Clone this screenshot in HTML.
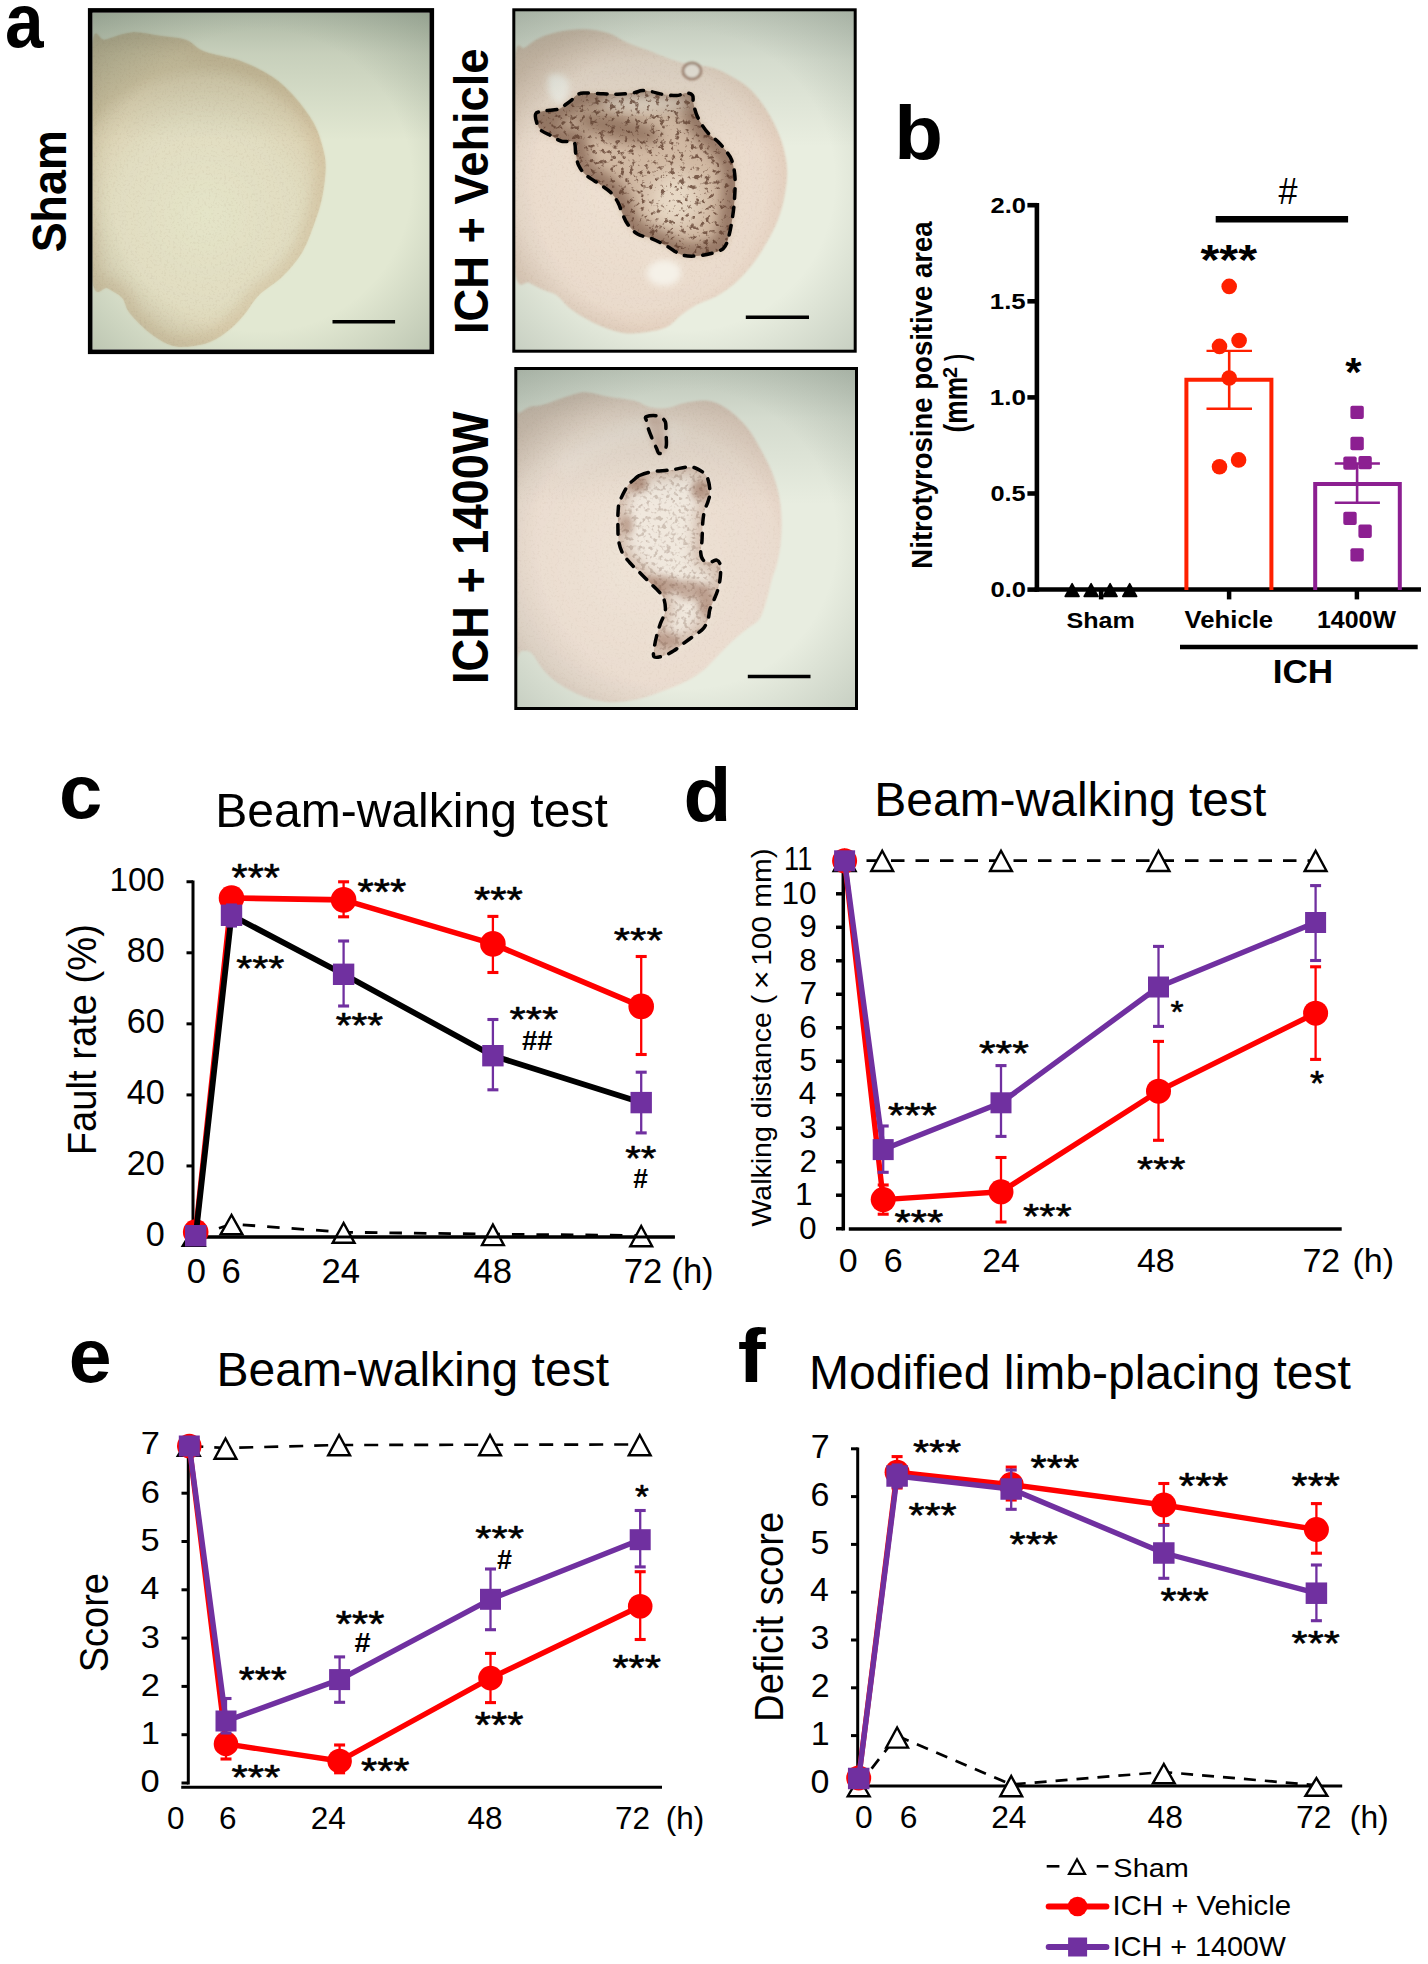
<!DOCTYPE html>
<html><head><meta charset="utf-8"><style>
html,body{margin:0;padding:0;background:#fff;}
svg{display:block;}
text{font-family:"Liberation Sans",sans-serif;}
</style></head><body>
<svg width="1428" height="1964" viewBox="0 0 1428 1964">
<rect width="1428" height="1964" fill="#fff"/>
<defs>
<clipPath id="cb1"><rect x="92.5" y="12.8" width="337.2" height="336.6"/></clipPath>
<clipPath id="cb2"><rect x="515" y="11" width="339" height="339"/></clipPath>
<clipPath id="cb3"><rect x="517" y="369.5" width="339" height="338"/></clipPath>
<linearGradient id="tv" x1="0" y1="0" x2="0" y2="1">
 <stop offset="0" stop-color="#43574a" stop-opacity="0.33"/><stop offset="0.12" stop-color="#43574a" stop-opacity="0.17"/><stop offset="0.38" stop-color="#43574a" stop-opacity="0"/></linearGradient>
<linearGradient id="tv2" x1="0" y1="0" x2="0" y2="1">
 <stop offset="0" stop-color="#43574a" stop-opacity="0.26"/><stop offset="0.15" stop-color="#43574a" stop-opacity="0.12"/><stop offset="0.4" stop-color="#43574a" stop-opacity="0"/></linearGradient>
<radialGradient id="cv" cx="0.5" cy="0.5" r="0.72">
 <stop offset="0.62" stop-color="#43574a" stop-opacity="0"/><stop offset="1" stop-color="#43574a" stop-opacity="0.24"/></radialGradient>
<radialGradient id="cv2" cx="0.5" cy="0.5" r="0.72">
 <stop offset="0.6" stop-color="#43574a" stop-opacity="0"/><stop offset="1" stop-color="#43574a" stop-opacity="0.22"/></radialGradient>
<radialGradient id="br1" gradientUnits="userSpaceOnUse" cx="205" cy="215" r="150">
 <stop offset="0" stop-color="#e4e4c8"/><stop offset="0.6" stop-color="#e1ddc1"/><stop offset="0.9" stop-color="#dbd0b0"/><stop offset="1" stop-color="#d2c5a2"/></radialGradient>
<radialGradient id="br2" gradientUnits="userSpaceOnUse" cx="640" cy="185" r="165">
 <stop offset="0" stop-color="#eee2d3"/><stop offset="0.75" stop-color="#eadbcc"/><stop offset="1" stop-color="#dec7b4"/></radialGradient>
<radialGradient id="br3" gradientUnits="userSpaceOnUse" cx="640" cy="560" r="175">
 <stop offset="0" stop-color="#eee3d6"/><stop offset="0.78" stop-color="#eadccf"/><stop offset="1" stop-color="#dfcabb"/></radialGradient>
<filter id="speck" color-interpolation-filters="sRGB" x="0" y="0" width="100%" height="100%"><feTurbulence type="fractalNoise" baseFrequency="0.24" numOctaves="2" seed="7" result="n"/>
<feColorMatrix in="n" type="matrix" values="0 0 0 0 0.36  0 0 0 0 0.23  0 0 0 0 0.17  5.5 0 0 0 -2.85" result="c"/><feComposite in="c" in2="SourceAlpha" operator="in" result="d"/><feGaussianBlur in="d" stdDeviation="0.6"/></filter>
<filter id="tex" color-interpolation-filters="sRGB" x="0" y="0" width="100%" height="100%"><feTurbulence type="fractalNoise" baseFrequency="0.45" numOctaves="2" seed="3" result="n"/>
<feColorMatrix in="n" type="matrix" values="0 0 0 0 0.55  0 0 0 0 0.45  0 0 0 0 0.35  4 0 0 0 -2.1" result="c"/><feComposite in="c" in2="SourceAlpha" operator="in"/></filter>
<filter id="speck2" color-interpolation-filters="sRGB" x="0" y="0" width="100%" height="100%"><feTurbulence type="fractalNoise" baseFrequency="0.2" numOctaves="3" seed="11" result="n"/>
<feColorMatrix in="n" type="matrix" values="0 0 0 0 0.36  0 0 0 0 0.23  0 0 0 0 0.17  6 0 0 0 -3.35" result="c"/><feComposite in="c" in2="SourceAlpha" operator="in" result="d"/><feGaussianBlur in="d" stdDeviation="0.5"/></filter>
<filter id="blur1" x="-20%" y="-20%" width="140%" height="140%"><feGaussianBlur stdDeviation="0.8"/></filter>
<filter id="blur3" x="-30%" y="-30%" width="160%" height="160%"><feGaussianBlur stdDeviation="3"/></filter>
<filter id="blur6" x="-30%" y="-30%" width="160%" height="160%"><feGaussianBlur stdDeviation="6"/></filter>
<filter id="blur10" x="-40%" y="-40%" width="180%" height="180%"><feGaussianBlur stdDeviation="10"/></filter>
</defs>
<text x="4.97" y="46.86" font-size="76.12" font-weight="bold" textLength="38.59" lengthAdjust="spacingAndGlyphs" fill="#000">a</text>
<text transform="translate(65.8,251) rotate(-90)" x="-1.29" y="0" font-size="47.34" font-weight="bold" textLength="122.07" lengthAdjust="spacingAndGlyphs" fill="#000">Sham</text>
<text transform="translate(488,331) rotate(-90)" x="-3" y="0" font-size="48.3" font-weight="bold" textLength="285.54" lengthAdjust="spacingAndGlyphs" fill="#000">ICH + Vehicle</text>
<text transform="translate(488,681) rotate(-90)" x="-3.02" y="0" font-size="50.13" font-weight="bold" textLength="272.57" lengthAdjust="spacingAndGlyphs" fill="#000">ICH + 1400W</text>
<g clip-path="url(#cb1)">
<rect x="88" y="8" width="346" height="346" fill="#e2e8d2"/>
<path d="M92 43 C96.17 22.95 98.35 41.47 105 39.7 C111.65 37.93 122.57 33.02 131.9 32.4 C141.23 31.78 152.07 34.78 161 36 C169.93 37.22 178.58 37.25 185.5 39.7 C192.42 42.15 196 47.87 202.5 50.7 C209 53.53 218.4 55.08 224.5 56.7 C230.6 58.32 233.42 58.37 239.1 60.4 C244.78 62.43 252.1 65.45 258.6 68.9 C265.1 72.35 271.6 75.82 278.1 81.1 C284.6 86.38 291.5 93.28 297.6 100.6 C303.7 107.92 310.43 116.87 314.7 125 C318.97 133.13 321.38 142.08 323.2 149.4 C325.02 156.72 325.8 160.78 325.6 168.9 C325.4 177.02 323.82 189.17 322 198.1 C320.18 207.03 317.95 213.57 314.7 222.5 C311.45 231.43 307.78 242.77 302.5 251.7 C297.22 260.63 290.32 268.78 283 276.1 C275.68 283.42 265.1 289.1 258.6 295.6 C252.1 302.1 248.87 309.42 244 315.1 C239.13 320.78 235.08 325.23 229.4 329.7 C223.72 334.17 217.22 339.05 209.9 341.9 C202.58 344.75 192.42 346.4 185.5 346.8 C178.58 347.2 174.5 346.73 168.4 344.3 C162.3 341.87 155.4 337.47 148.9 332.2 C142.4 326.93 133.87 318.4 129.4 312.7 C124.93 307 125.75 302.07 122.1 298 C118.45 293.93 112.52 291.13 107.5 288.3 C102.48 285.47 96.58 302.38 92 281 C87.42 259.62 80 199.67 80 160 C80 120.33 87.83 63.05 92 43Z" fill="url(#br1)" filter="url(#blur1)"/>
<clipPath id="clb1"><path d="M92 43 C96.17 22.95 98.35 41.47 105 39.7 C111.65 37.93 122.57 33.02 131.9 32.4 C141.23 31.78 152.07 34.78 161 36 C169.93 37.22 178.58 37.25 185.5 39.7 C192.42 42.15 196 47.87 202.5 50.7 C209 53.53 218.4 55.08 224.5 56.7 C230.6 58.32 233.42 58.37 239.1 60.4 C244.78 62.43 252.1 65.45 258.6 68.9 C265.1 72.35 271.6 75.82 278.1 81.1 C284.6 86.38 291.5 93.28 297.6 100.6 C303.7 107.92 310.43 116.87 314.7 125 C318.97 133.13 321.38 142.08 323.2 149.4 C325.02 156.72 325.8 160.78 325.6 168.9 C325.4 177.02 323.82 189.17 322 198.1 C320.18 207.03 317.95 213.57 314.7 222.5 C311.45 231.43 307.78 242.77 302.5 251.7 C297.22 260.63 290.32 268.78 283 276.1 C275.68 283.42 265.1 289.1 258.6 295.6 C252.1 302.1 248.87 309.42 244 315.1 C239.13 320.78 235.08 325.23 229.4 329.7 C223.72 334.17 217.22 339.05 209.9 341.9 C202.58 344.75 192.42 346.4 185.5 346.8 C178.58 347.2 174.5 346.73 168.4 344.3 C162.3 341.87 155.4 337.47 148.9 332.2 C142.4 326.93 133.87 318.4 129.4 312.7 C124.93 307 125.75 302.07 122.1 298 C118.45 293.93 112.52 291.13 107.5 288.3 C102.48 285.47 96.58 302.38 92 281 C87.42 259.62 80 199.67 80 160 C80 120.33 87.83 63.05 92 43Z"/></clipPath>
<g clip-path="url(#clb1)"><path d="M92 43 C96.17 22.95 98.35 41.47 105 39.7 C111.65 37.93 122.57 33.02 131.9 32.4 C141.23 31.78 152.07 34.78 161 36 C169.93 37.22 178.58 37.25 185.5 39.7 C192.42 42.15 196 47.87 202.5 50.7 C209 53.53 218.4 55.08 224.5 56.7 C230.6 58.32 233.42 58.37 239.1 60.4 C244.78 62.43 252.1 65.45 258.6 68.9 C265.1 72.35 271.6 75.82 278.1 81.1 C284.6 86.38 291.5 93.28 297.6 100.6 C303.7 107.92 310.43 116.87 314.7 125 C318.97 133.13 321.38 142.08 323.2 149.4 C325.02 156.72 325.8 160.78 325.6 168.9 C325.4 177.02 323.82 189.17 322 198.1 C320.18 207.03 317.95 213.57 314.7 222.5 C311.45 231.43 307.78 242.77 302.5 251.7 C297.22 260.63 290.32 268.78 283 276.1 C275.68 283.42 265.1 289.1 258.6 295.6 C252.1 302.1 248.87 309.42 244 315.1 C239.13 320.78 235.08 325.23 229.4 329.7 C223.72 334.17 217.22 339.05 209.9 341.9 C202.58 344.75 192.42 346.4 185.5 346.8 C178.58 347.2 174.5 346.73 168.4 344.3 C162.3 341.87 155.4 337.47 148.9 332.2 C142.4 326.93 133.87 318.4 129.4 312.7 C124.93 307 125.75 302.07 122.1 298 C118.45 293.93 112.52 291.13 107.5 288.3 C102.48 285.47 96.58 302.38 92 281 C87.42 259.62 80 199.67 80 160 C80 120.33 87.83 63.05 92 43Z" fill="none" stroke="#cdb996" stroke-width="22" opacity="0.45" filter="url(#blur6)"/></g>
<path d="M92 43 C96.17 22.95 98.35 41.47 105 39.7 C111.65 37.93 122.57 33.02 131.9 32.4 C141.23 31.78 152.07 34.78 161 36 C169.93 37.22 178.58 37.25 185.5 39.7 C192.42 42.15 196 47.87 202.5 50.7 C209 53.53 218.4 55.08 224.5 56.7 C230.6 58.32 233.42 58.37 239.1 60.4 C244.78 62.43 252.1 65.45 258.6 68.9 C265.1 72.35 271.6 75.82 278.1 81.1 C284.6 86.38 291.5 93.28 297.6 100.6 C303.7 107.92 310.43 116.87 314.7 125 C318.97 133.13 321.38 142.08 323.2 149.4 C325.02 156.72 325.8 160.78 325.6 168.9 C325.4 177.02 323.82 189.17 322 198.1 C320.18 207.03 317.95 213.57 314.7 222.5 C311.45 231.43 307.78 242.77 302.5 251.7 C297.22 260.63 290.32 268.78 283 276.1 C275.68 283.42 265.1 289.1 258.6 295.6 C252.1 302.1 248.87 309.42 244 315.1 C239.13 320.78 235.08 325.23 229.4 329.7 C223.72 334.17 217.22 339.05 209.9 341.9 C202.58 344.75 192.42 346.4 185.5 346.8 C178.58 347.2 174.5 346.73 168.4 344.3 C162.3 341.87 155.4 337.47 148.9 332.2 C142.4 326.93 133.87 318.4 129.4 312.7 C124.93 307 125.75 302.07 122.1 298 C118.45 293.93 112.52 291.13 107.5 288.3 C102.48 285.47 96.58 302.38 92 281 C87.42 259.62 80 199.67 80 160 C80 120.33 87.83 63.05 92 43Z" fill="#000" filter="url(#tex)" opacity="0.07"/>
<rect x="92.5" y="12.8" width="337.2" height="336.6" fill="url(#tv)"/>
<rect x="92.5" y="12.8" width="337.2" height="336.6" fill="url(#cv)"/>
</g>
<rect x="90.2" y="10.4" width="341.6" height="341.4" fill="none" stroke="#000" stroke-width="4.6"/>
<line x1="332.5" y1="321.7" x2="395.1" y2="321.7" stroke="#000" stroke-width="3.4"/>
<g clip-path="url(#cb2)">
<rect x="512" y="8" width="346" height="346" fill="#e9eee0"/>
<path d="M514.9 55 C518.18 36.28 520.62 50.55 524.7 47.7 C528.78 44.85 533.68 40.57 539.4 37.9 C545.12 35.23 551.65 33.13 559 31.7 C566.35 30.27 575.33 29.08 583.5 29.3 C591.67 29.52 600.65 30.75 608 33 C615.35 35.25 621.05 39.95 627.6 42.8 C634.15 45.65 640.35 47.45 647.3 50.1 C654.25 52.75 661.95 56.25 669.3 58.7 C676.65 61.15 684.45 63.37 691.4 64.8 C698.35 66.23 704.47 65.45 711 67.3 C717.53 69.15 724.07 72.23 730.6 75.9 C737.13 79.57 744.07 83.38 750.2 89.3 C756.33 95.22 762.5 103.63 767.4 111.4 C772.3 119.17 776.55 128.13 779.6 135.9 C782.65 143.67 784.47 151.05 785.7 158 C786.93 164.95 787.4 170.25 787 177.6 C786.6 184.95 784.93 194.75 783.3 202.1 C781.67 209.45 779.85 215.17 777.2 221.7 C774.55 228.23 771.08 234.77 767.4 241.3 C763.72 247.83 760 254.37 755.1 260.9 C750.2 267.43 744.13 274.78 738 280.5 C731.87 286.22 725.25 291.12 718.3 295.2 C711.35 299.28 702.42 301.73 696.3 305 C690.18 308.27 686.5 311.12 681.6 314.8 C676.7 318.48 672.62 324.23 666.9 327.1 C661.18 329.97 654.25 330.98 647.3 332 C640.35 333.02 632.57 334.02 625.2 333.2 C617.83 332.38 610.05 329.75 603.1 327.1 C596.15 324.45 589.22 320.57 583.5 317.3 C577.78 314.03 573.28 311.18 568.8 307.5 C564.32 303.82 560.68 298.07 556.6 295.2 C552.52 292.33 548.8 292.33 544.3 290.3 C539.8 288.27 534.5 285.85 529.6 283 C524.7 280.15 519 293.7 514.9 273.2 C510.8 252.7 505 196.37 505 160 C505 123.63 511.62 73.72 514.9 55Z" fill="url(#br2)" filter="url(#blur1)"/>
<path d="M514.9 55 C518.18 36.28 520.62 50.55 524.7 47.7 C528.78 44.85 533.68 40.57 539.4 37.9 C545.12 35.23 551.65 33.13 559 31.7 C566.35 30.27 575.33 29.08 583.5 29.3 C591.67 29.52 600.65 30.75 608 33 C615.35 35.25 621.05 39.95 627.6 42.8 C634.15 45.65 640.35 47.45 647.3 50.1 C654.25 52.75 661.95 56.25 669.3 58.7 C676.65 61.15 684.45 63.37 691.4 64.8 C698.35 66.23 704.47 65.45 711 67.3 C717.53 69.15 724.07 72.23 730.6 75.9 C737.13 79.57 744.07 83.38 750.2 89.3 C756.33 95.22 762.5 103.63 767.4 111.4 C772.3 119.17 776.55 128.13 779.6 135.9 C782.65 143.67 784.47 151.05 785.7 158 C786.93 164.95 787.4 170.25 787 177.6 C786.6 184.95 784.93 194.75 783.3 202.1 C781.67 209.45 779.85 215.17 777.2 221.7 C774.55 228.23 771.08 234.77 767.4 241.3 C763.72 247.83 760 254.37 755.1 260.9 C750.2 267.43 744.13 274.78 738 280.5 C731.87 286.22 725.25 291.12 718.3 295.2 C711.35 299.28 702.42 301.73 696.3 305 C690.18 308.27 686.5 311.12 681.6 314.8 C676.7 318.48 672.62 324.23 666.9 327.1 C661.18 329.97 654.25 330.98 647.3 332 C640.35 333.02 632.57 334.02 625.2 333.2 C617.83 332.38 610.05 329.75 603.1 327.1 C596.15 324.45 589.22 320.57 583.5 317.3 C577.78 314.03 573.28 311.18 568.8 307.5 C564.32 303.82 560.68 298.07 556.6 295.2 C552.52 292.33 548.8 292.33 544.3 290.3 C539.8 288.27 534.5 285.85 529.6 283 C524.7 280.15 519 293.7 514.9 273.2 C510.8 252.7 505 196.37 505 160 C505 123.63 511.62 73.72 514.9 55Z" fill="#000" filter="url(#tex)" opacity="0.06"/>
<clipPath id="cl2"><path d="M535.7 113.8 C534.88 115.83 535.97 120.73 537 123.6 C538.03 126.47 539.45 128.95 541.9 131 C544.35 133.05 548.43 134.18 551.7 135.9 C554.97 137.62 557.83 140.28 561.5 141.3 C565.17 142.32 571.33 140.03 573.7 142 C576.07 143.97 574.88 149.22 575.7 153.1 C576.52 156.98 576.88 161.63 578.6 165.3 C580.32 168.97 582.32 171.83 586 175.1 C589.68 178.37 596.62 182.03 600.7 184.9 C604.78 187.77 607.65 189.43 610.5 192.3 C613.35 195.17 615.77 198.43 617.8 202.1 C619.83 205.77 621.07 210.63 622.7 214.3 C624.33 217.97 625.13 220.82 627.6 224.1 C630.07 227.38 633.4 231.55 637.5 234 C641.6 236.45 647.3 236.77 652.2 238.8 C657.1 240.83 662 243.53 666.9 246.2 C671.8 248.87 676.7 253.17 681.6 254.8 C686.5 256.43 691.4 256.22 696.3 256 C701.2 255.78 706.52 254.73 711 253.5 C715.48 252.27 720.35 251.05 723.2 248.6 C726.05 246.15 726.67 243.28 728.1 238.8 C729.53 234.32 730.77 227.82 731.8 221.7 C732.83 215.58 733.77 209.45 734.3 202.1 C734.83 194.75 735.42 184.55 735 177.6 C734.58 170.65 733.35 164.9 731.8 160.4 C730.25 155.9 727.95 153.67 725.7 150.6 C723.45 147.53 721.17 144.85 718.3 142 C715.43 139.15 711.35 136.57 708.5 133.5 C705.65 130.43 703.23 126.88 701.2 123.6 C699.17 120.32 697.62 117.27 696.3 113.8 C694.98 110.33 693.92 105.85 693.3 102.8 C692.68 99.75 693.73 97.13 692.6 95.5 C691.47 93.87 689.15 93 686.5 93 C683.85 93 680.78 95.3 676.7 95.5 C672.62 95.7 666.08 94.82 662 94.2 C657.92 93.58 655.47 92.4 652.2 91.8 C648.93 91.2 645.68 90.4 642.4 90.6 C639.12 90.8 636.6 92.4 632.5 93 C628.4 93.6 622.7 94.08 617.8 94.2 C612.9 94.32 608.82 93.9 603.1 93.7 C597.38 93.5 587.98 92.7 583.5 93 C579.02 93.3 578.23 94.27 576.2 95.5 C574.17 96.73 572.93 98.98 571.3 100.4 C569.67 101.82 568.45 102.58 566.4 104 C564.35 105.42 561.87 107.87 559 108.9 C556.13 109.93 552.05 109.78 549.2 110.2 C546.35 110.62 544.15 110.8 541.9 111.4 C539.65 112 536.52 111.77 535.7 113.8Z"/></clipPath>
<path d="M535.7 113.8 C534.88 115.83 535.97 120.73 537 123.6 C538.03 126.47 539.45 128.95 541.9 131 C544.35 133.05 548.43 134.18 551.7 135.9 C554.97 137.62 557.83 140.28 561.5 141.3 C565.17 142.32 571.33 140.03 573.7 142 C576.07 143.97 574.88 149.22 575.7 153.1 C576.52 156.98 576.88 161.63 578.6 165.3 C580.32 168.97 582.32 171.83 586 175.1 C589.68 178.37 596.62 182.03 600.7 184.9 C604.78 187.77 607.65 189.43 610.5 192.3 C613.35 195.17 615.77 198.43 617.8 202.1 C619.83 205.77 621.07 210.63 622.7 214.3 C624.33 217.97 625.13 220.82 627.6 224.1 C630.07 227.38 633.4 231.55 637.5 234 C641.6 236.45 647.3 236.77 652.2 238.8 C657.1 240.83 662 243.53 666.9 246.2 C671.8 248.87 676.7 253.17 681.6 254.8 C686.5 256.43 691.4 256.22 696.3 256 C701.2 255.78 706.52 254.73 711 253.5 C715.48 252.27 720.35 251.05 723.2 248.6 C726.05 246.15 726.67 243.28 728.1 238.8 C729.53 234.32 730.77 227.82 731.8 221.7 C732.83 215.58 733.77 209.45 734.3 202.1 C734.83 194.75 735.42 184.55 735 177.6 C734.58 170.65 733.35 164.9 731.8 160.4 C730.25 155.9 727.95 153.67 725.7 150.6 C723.45 147.53 721.17 144.85 718.3 142 C715.43 139.15 711.35 136.57 708.5 133.5 C705.65 130.43 703.23 126.88 701.2 123.6 C699.17 120.32 697.62 117.27 696.3 113.8 C694.98 110.33 693.92 105.85 693.3 102.8 C692.68 99.75 693.73 97.13 692.6 95.5 C691.47 93.87 689.15 93 686.5 93 C683.85 93 680.78 95.3 676.7 95.5 C672.62 95.7 666.08 94.82 662 94.2 C657.92 93.58 655.47 92.4 652.2 91.8 C648.93 91.2 645.68 90.4 642.4 90.6 C639.12 90.8 636.6 92.4 632.5 93 C628.4 93.6 622.7 94.08 617.8 94.2 C612.9 94.32 608.82 93.9 603.1 93.7 C597.38 93.5 587.98 92.7 583.5 93 C579.02 93.3 578.23 94.27 576.2 95.5 C574.17 96.73 572.93 98.98 571.3 100.4 C569.67 101.82 568.45 102.58 566.4 104 C564.35 105.42 561.87 107.87 559 108.9 C556.13 109.93 552.05 109.78 549.2 110.2 C546.35 110.62 544.15 110.8 541.9 111.4 C539.65 112 536.52 111.77 535.7 113.8Z" fill="#cdb39c" opacity="0.85" filter="url(#blur3)"/>
<g clip-path="url(#cl2)">
<path d="M535.7 113.8 C534.88 115.83 535.97 120.73 537 123.6 C538.03 126.47 539.45 128.95 541.9 131 C544.35 133.05 548.43 134.18 551.7 135.9 C554.97 137.62 557.83 140.28 561.5 141.3 C565.17 142.32 571.33 140.03 573.7 142 C576.07 143.97 574.88 149.22 575.7 153.1 C576.52 156.98 576.88 161.63 578.6 165.3 C580.32 168.97 582.32 171.83 586 175.1 C589.68 178.37 596.62 182.03 600.7 184.9 C604.78 187.77 607.65 189.43 610.5 192.3 C613.35 195.17 615.77 198.43 617.8 202.1 C619.83 205.77 621.07 210.63 622.7 214.3 C624.33 217.97 625.13 220.82 627.6 224.1 C630.07 227.38 633.4 231.55 637.5 234 C641.6 236.45 647.3 236.77 652.2 238.8 C657.1 240.83 662 243.53 666.9 246.2 C671.8 248.87 676.7 253.17 681.6 254.8 C686.5 256.43 691.4 256.22 696.3 256 C701.2 255.78 706.52 254.73 711 253.5 C715.48 252.27 720.35 251.05 723.2 248.6 C726.05 246.15 726.67 243.28 728.1 238.8 C729.53 234.32 730.77 227.82 731.8 221.7 C732.83 215.58 733.77 209.45 734.3 202.1 C734.83 194.75 735.42 184.55 735 177.6 C734.58 170.65 733.35 164.9 731.8 160.4 C730.25 155.9 727.95 153.67 725.7 150.6 C723.45 147.53 721.17 144.85 718.3 142 C715.43 139.15 711.35 136.57 708.5 133.5 C705.65 130.43 703.23 126.88 701.2 123.6 C699.17 120.32 697.62 117.27 696.3 113.8 C694.98 110.33 693.92 105.85 693.3 102.8 C692.68 99.75 693.73 97.13 692.6 95.5 C691.47 93.87 689.15 93 686.5 93 C683.85 93 680.78 95.3 676.7 95.5 C672.62 95.7 666.08 94.82 662 94.2 C657.92 93.58 655.47 92.4 652.2 91.8 C648.93 91.2 645.68 90.4 642.4 90.6 C639.12 90.8 636.6 92.4 632.5 93 C628.4 93.6 622.7 94.08 617.8 94.2 C612.9 94.32 608.82 93.9 603.1 93.7 C597.38 93.5 587.98 92.7 583.5 93 C579.02 93.3 578.23 94.27 576.2 95.5 C574.17 96.73 572.93 98.98 571.3 100.4 C569.67 101.82 568.45 102.58 566.4 104 C564.35 105.42 561.87 107.87 559 108.9 C556.13 109.93 552.05 109.78 549.2 110.2 C546.35 110.62 544.15 110.8 541.9 111.4 C539.65 112 536.52 111.77 535.7 113.8Z" fill="none" stroke="#6e4c3a" stroke-width="26" opacity="0.6" filter="url(#blur6)"/>
<ellipse cx="618" cy="128" rx="44" ry="12" fill="#76523f" opacity="0.6" filter="url(#blur6)" transform="rotate(14 618 128)"/>
<ellipse cx="645" cy="103" rx="45" ry="8" fill="#efe6d8" opacity="0.8" filter="url(#blur6)"/>
<ellipse cx="675" cy="200" rx="26" ry="28" fill="#ecdfcc" opacity="0.85" filter="url(#blur10)"/>
<path d="M535.7 113.8 C534.88 115.83 535.97 120.73 537 123.6 C538.03 126.47 539.45 128.95 541.9 131 C544.35 133.05 548.43 134.18 551.7 135.9 C554.97 137.62 557.83 140.28 561.5 141.3 C565.17 142.32 571.33 140.03 573.7 142 C576.07 143.97 574.88 149.22 575.7 153.1 C576.52 156.98 576.88 161.63 578.6 165.3 C580.32 168.97 582.32 171.83 586 175.1 C589.68 178.37 596.62 182.03 600.7 184.9 C604.78 187.77 607.65 189.43 610.5 192.3 C613.35 195.17 615.77 198.43 617.8 202.1 C619.83 205.77 621.07 210.63 622.7 214.3 C624.33 217.97 625.13 220.82 627.6 224.1 C630.07 227.38 633.4 231.55 637.5 234 C641.6 236.45 647.3 236.77 652.2 238.8 C657.1 240.83 662 243.53 666.9 246.2 C671.8 248.87 676.7 253.17 681.6 254.8 C686.5 256.43 691.4 256.22 696.3 256 C701.2 255.78 706.52 254.73 711 253.5 C715.48 252.27 720.35 251.05 723.2 248.6 C726.05 246.15 726.67 243.28 728.1 238.8 C729.53 234.32 730.77 227.82 731.8 221.7 C732.83 215.58 733.77 209.45 734.3 202.1 C734.83 194.75 735.42 184.55 735 177.6 C734.58 170.65 733.35 164.9 731.8 160.4 C730.25 155.9 727.95 153.67 725.7 150.6 C723.45 147.53 721.17 144.85 718.3 142 C715.43 139.15 711.35 136.57 708.5 133.5 C705.65 130.43 703.23 126.88 701.2 123.6 C699.17 120.32 697.62 117.27 696.3 113.8 C694.98 110.33 693.92 105.85 693.3 102.8 C692.68 99.75 693.73 97.13 692.6 95.5 C691.47 93.87 689.15 93 686.5 93 C683.85 93 680.78 95.3 676.7 95.5 C672.62 95.7 666.08 94.82 662 94.2 C657.92 93.58 655.47 92.4 652.2 91.8 C648.93 91.2 645.68 90.4 642.4 90.6 C639.12 90.8 636.6 92.4 632.5 93 C628.4 93.6 622.7 94.08 617.8 94.2 C612.9 94.32 608.82 93.9 603.1 93.7 C597.38 93.5 587.98 92.7 583.5 93 C579.02 93.3 578.23 94.27 576.2 95.5 C574.17 96.73 572.93 98.98 571.3 100.4 C569.67 101.82 568.45 102.58 566.4 104 C564.35 105.42 561.87 107.87 559 108.9 C556.13 109.93 552.05 109.78 549.2 110.2 C546.35 110.62 544.15 110.8 541.9 111.4 C539.65 112 536.52 111.77 535.7 113.8Z" fill="#000" filter="url(#speck2)" opacity="0.75"/>
</g>
<ellipse cx="664" cy="273" rx="17" ry="13" fill="#f5f1e8" filter="url(#blur3)"/>
<path d="M548 76 Q560 70 568 80 Q572 95 560 104 Q550 100 548 90 Z" fill="#f2efe6" filter="url(#blur3)"/>
<ellipse cx="692" cy="71" rx="9" ry="8" fill="#f0ebe2" stroke="#9a7866" stroke-width="3" opacity="0.8" filter="url(#blur1)"/>
<rect x="512" y="8" width="346" height="346" fill="url(#tv2)"/>
<rect x="512" y="8" width="346" height="346" fill="url(#cv2)"/>
<path d="M535.7 113.8 C534.88 115.83 535.97 120.73 537 123.6 C538.03 126.47 539.45 128.95 541.9 131 C544.35 133.05 548.43 134.18 551.7 135.9 C554.97 137.62 557.83 140.28 561.5 141.3 C565.17 142.32 571.33 140.03 573.7 142 C576.07 143.97 574.88 149.22 575.7 153.1 C576.52 156.98 576.88 161.63 578.6 165.3 C580.32 168.97 582.32 171.83 586 175.1 C589.68 178.37 596.62 182.03 600.7 184.9 C604.78 187.77 607.65 189.43 610.5 192.3 C613.35 195.17 615.77 198.43 617.8 202.1 C619.83 205.77 621.07 210.63 622.7 214.3 C624.33 217.97 625.13 220.82 627.6 224.1 C630.07 227.38 633.4 231.55 637.5 234 C641.6 236.45 647.3 236.77 652.2 238.8 C657.1 240.83 662 243.53 666.9 246.2 C671.8 248.87 676.7 253.17 681.6 254.8 C686.5 256.43 691.4 256.22 696.3 256 C701.2 255.78 706.52 254.73 711 253.5 C715.48 252.27 720.35 251.05 723.2 248.6 C726.05 246.15 726.67 243.28 728.1 238.8 C729.53 234.32 730.77 227.82 731.8 221.7 C732.83 215.58 733.77 209.45 734.3 202.1 C734.83 194.75 735.42 184.55 735 177.6 C734.58 170.65 733.35 164.9 731.8 160.4 C730.25 155.9 727.95 153.67 725.7 150.6 C723.45 147.53 721.17 144.85 718.3 142 C715.43 139.15 711.35 136.57 708.5 133.5 C705.65 130.43 703.23 126.88 701.2 123.6 C699.17 120.32 697.62 117.27 696.3 113.8 C694.98 110.33 693.92 105.85 693.3 102.8 C692.68 99.75 693.73 97.13 692.6 95.5 C691.47 93.87 689.15 93 686.5 93 C683.85 93 680.78 95.3 676.7 95.5 C672.62 95.7 666.08 94.82 662 94.2 C657.92 93.58 655.47 92.4 652.2 91.8 C648.93 91.2 645.68 90.4 642.4 90.6 C639.12 90.8 636.6 92.4 632.5 93 C628.4 93.6 622.7 94.08 617.8 94.2 C612.9 94.32 608.82 93.9 603.1 93.7 C597.38 93.5 587.98 92.7 583.5 93 C579.02 93.3 578.23 94.27 576.2 95.5 C574.17 96.73 572.93 98.98 571.3 100.4 C569.67 101.82 568.45 102.58 566.4 104 C564.35 105.42 561.87 107.87 559 108.9 C556.13 109.93 552.05 109.78 549.2 110.2 C546.35 110.62 544.15 110.8 541.9 111.4 C539.65 112 536.52 111.77 535.7 113.8Z" fill="none" stroke="#000" stroke-width="3.5" stroke-dasharray="9.5 9" stroke-linecap="round"/>
</g>
<rect x="513.8" y="9.8" width="341.4" height="341.4" fill="none" stroke="#000" stroke-width="3"/>
<line x1="745.8" y1="317.3" x2="809" y2="317.3" stroke="#000" stroke-width="3.4"/>
<g clip-path="url(#cb3)">
<rect x="514" y="366" width="346" height="346" fill="#e8ede0"/>
<path d="M518.1 413 C522.13 411.98 524.9 408.33 529.2 406.9 C533.5 405.47 537.37 406.23 543.9 404.4 C550.43 402.57 561.47 397.93 568.4 395.9 C575.33 393.87 578.57 392 585.5 392.2 C592.43 392.4 601.83 395.67 610 397.1 C618.17 398.53 627.95 399.17 634.5 400.8 C641.05 402.43 643.98 405.68 649.3 406.9 C654.62 408.12 660.68 408.72 666.4 408.1 C672.12 407.48 676.65 404.42 683.6 403.2 C690.55 401.98 700.75 399.78 708.1 400.8 C715.45 401.82 721.17 404.82 727.7 409.3 C734.23 413.78 742 421.37 747.3 427.7 C752.6 434.03 755.42 439.95 759.5 447.3 C763.58 454.65 768.52 463.62 771.8 471.8 C775.08 479.98 777.57 488.22 779.2 496.4 C780.83 504.58 781.4 512.73 781.6 520.9 C781.8 529.07 781.22 538.05 780.4 545.4 C779.58 552.75 778.13 559.28 776.7 565 C775.27 570.72 773.43 573.98 771.8 579.7 C770.17 585.42 768.95 592.77 766.9 599.3 C764.85 605.83 762.77 614 759.5 618.9 C756.23 623.8 751.78 625.02 747.3 628.7 C742.82 632.38 737.5 636.5 732.6 641 C727.7 645.5 722.8 650.8 717.9 655.7 C713 660.6 708.92 665.92 703.2 670.4 C697.48 674.88 690.95 678.93 683.6 682.6 C676.25 686.27 667.28 689.53 659.1 692.4 C650.92 695.27 642.68 698.17 634.5 699.8 C626.32 701.43 618.17 702.62 610 702.2 C601.83 701.78 593.67 700.15 585.5 697.3 C577.33 694.45 567.93 689.58 561 685.1 C554.07 680.62 548.8 675.72 543.9 670.4 C539 665.08 535.28 656.47 531.6 653.2 C527.92 649.93 526.23 650.83 521.8 650.8 C517.37 650.77 507.8 692.63 505 653 C502.2 613.37 502.82 453 505 413 C507.18 373 514.07 414.02 518.1 413Z" fill="url(#br3)" filter="url(#blur1)"/>
<path d="M518.1 413 C522.13 411.98 524.9 408.33 529.2 406.9 C533.5 405.47 537.37 406.23 543.9 404.4 C550.43 402.57 561.47 397.93 568.4 395.9 C575.33 393.87 578.57 392 585.5 392.2 C592.43 392.4 601.83 395.67 610 397.1 C618.17 398.53 627.95 399.17 634.5 400.8 C641.05 402.43 643.98 405.68 649.3 406.9 C654.62 408.12 660.68 408.72 666.4 408.1 C672.12 407.48 676.65 404.42 683.6 403.2 C690.55 401.98 700.75 399.78 708.1 400.8 C715.45 401.82 721.17 404.82 727.7 409.3 C734.23 413.78 742 421.37 747.3 427.7 C752.6 434.03 755.42 439.95 759.5 447.3 C763.58 454.65 768.52 463.62 771.8 471.8 C775.08 479.98 777.57 488.22 779.2 496.4 C780.83 504.58 781.4 512.73 781.6 520.9 C781.8 529.07 781.22 538.05 780.4 545.4 C779.58 552.75 778.13 559.28 776.7 565 C775.27 570.72 773.43 573.98 771.8 579.7 C770.17 585.42 768.95 592.77 766.9 599.3 C764.85 605.83 762.77 614 759.5 618.9 C756.23 623.8 751.78 625.02 747.3 628.7 C742.82 632.38 737.5 636.5 732.6 641 C727.7 645.5 722.8 650.8 717.9 655.7 C713 660.6 708.92 665.92 703.2 670.4 C697.48 674.88 690.95 678.93 683.6 682.6 C676.25 686.27 667.28 689.53 659.1 692.4 C650.92 695.27 642.68 698.17 634.5 699.8 C626.32 701.43 618.17 702.62 610 702.2 C601.83 701.78 593.67 700.15 585.5 697.3 C577.33 694.45 567.93 689.58 561 685.1 C554.07 680.62 548.8 675.72 543.9 670.4 C539 665.08 535.28 656.47 531.6 653.2 C527.92 649.93 526.23 650.83 521.8 650.8 C517.37 650.77 507.8 692.63 505 653 C502.2 613.37 502.82 453 505 413 C507.18 373 514.07 414.02 518.1 413Z" fill="#000" filter="url(#tex)" opacity="0.05"/>
<clipPath id="cl3"><path d="M639.5 475.5 C642.37 474.27 646.4 472.73 651.7 471.8 C657 470.87 665.17 470.72 671.3 469.9 C677.43 469.08 684 466.98 688.5 466.9 C693 466.82 695.23 467.77 698.3 469.4 C701.37 471.03 704.95 473.02 706.9 476.7 C708.85 480.38 709.8 487.4 710 491.5 C710.2 495.6 709.03 498.03 708.1 501.3 C707.17 504.57 705.3 507.43 704.4 511.1 C703.5 514.77 703.1 518.4 702.7 523.3 C702.3 528.2 702.33 535.6 702 540.5 C701.67 545.4 700.5 549.43 700.7 552.7 C700.9 555.97 701.57 558.55 703.2 560.1 C704.83 561.65 708.25 562 710.5 562 C712.75 562 715.07 559.6 716.7 560.1 C718.33 560.6 719.7 562.15 720.3 565 C720.9 567.85 720.7 573.12 720.3 577.2 C719.9 581.28 718.92 585.82 717.9 589.5 C716.88 593.18 715.52 596.03 714.2 599.3 C712.88 602.57 711.02 605.83 710 609.1 C708.98 612.37 709.23 615.63 708.1 618.9 C706.97 622.17 705.65 625.83 703.2 628.7 C700.75 631.57 696.67 633.65 693.4 636.1 C690.13 638.55 686.87 640.95 683.6 643.4 C680.33 645.85 677.07 648.75 673.8 650.8 C670.53 652.85 667.27 654.68 664 655.7 C660.73 656.72 655.83 658.13 654.2 656.9 C652.57 655.67 653.8 651.77 654.2 648.3 C654.6 644.83 655.58 640.18 656.6 636.1 C657.62 632.02 658.87 627.9 660.3 623.8 C661.73 619.7 664.58 615.58 665.2 611.5 C665.82 607.42 665.02 602.57 664 599.3 C662.98 596.03 661.55 594.77 659.1 591.9 C656.65 589.03 652.57 585.37 649.3 582.1 C646.03 578.83 642.78 575.57 639.5 572.3 C636.22 569.03 632.47 565.77 629.6 562.5 C626.73 559.23 624.13 556.37 622.3 552.7 C620.47 549.03 619.33 544.98 618.6 540.5 C617.87 536.02 617.98 530.7 617.9 525.8 C617.82 520.9 617.78 515.18 618.1 511.1 C618.42 507.02 618.28 505.4 619.8 501.3 C621.32 497.2 624.75 490.18 627.2 486.5 C629.65 482.82 632.45 481.03 634.5 479.2 C636.55 477.37 636.63 476.73 639.5 475.5Z"/></clipPath>
<path d="M639.5 475.5 C642.37 474.27 646.4 472.73 651.7 471.8 C657 470.87 665.17 470.72 671.3 469.9 C677.43 469.08 684 466.98 688.5 466.9 C693 466.82 695.23 467.77 698.3 469.4 C701.37 471.03 704.95 473.02 706.9 476.7 C708.85 480.38 709.8 487.4 710 491.5 C710.2 495.6 709.03 498.03 708.1 501.3 C707.17 504.57 705.3 507.43 704.4 511.1 C703.5 514.77 703.1 518.4 702.7 523.3 C702.3 528.2 702.33 535.6 702 540.5 C701.67 545.4 700.5 549.43 700.7 552.7 C700.9 555.97 701.57 558.55 703.2 560.1 C704.83 561.65 708.25 562 710.5 562 C712.75 562 715.07 559.6 716.7 560.1 C718.33 560.6 719.7 562.15 720.3 565 C720.9 567.85 720.7 573.12 720.3 577.2 C719.9 581.28 718.92 585.82 717.9 589.5 C716.88 593.18 715.52 596.03 714.2 599.3 C712.88 602.57 711.02 605.83 710 609.1 C708.98 612.37 709.23 615.63 708.1 618.9 C706.97 622.17 705.65 625.83 703.2 628.7 C700.75 631.57 696.67 633.65 693.4 636.1 C690.13 638.55 686.87 640.95 683.6 643.4 C680.33 645.85 677.07 648.75 673.8 650.8 C670.53 652.85 667.27 654.68 664 655.7 C660.73 656.72 655.83 658.13 654.2 656.9 C652.57 655.67 653.8 651.77 654.2 648.3 C654.6 644.83 655.58 640.18 656.6 636.1 C657.62 632.02 658.87 627.9 660.3 623.8 C661.73 619.7 664.58 615.58 665.2 611.5 C665.82 607.42 665.02 602.57 664 599.3 C662.98 596.03 661.55 594.77 659.1 591.9 C656.65 589.03 652.57 585.37 649.3 582.1 C646.03 578.83 642.78 575.57 639.5 572.3 C636.22 569.03 632.47 565.77 629.6 562.5 C626.73 559.23 624.13 556.37 622.3 552.7 C620.47 549.03 619.33 544.98 618.6 540.5 C617.87 536.02 617.98 530.7 617.9 525.8 C617.82 520.9 617.78 515.18 618.1 511.1 C618.42 507.02 618.28 505.4 619.8 501.3 C621.32 497.2 624.75 490.18 627.2 486.5 C629.65 482.82 632.45 481.03 634.5 479.2 C636.55 477.37 636.63 476.73 639.5 475.5Z" fill="#f1e9df" opacity="0.9" filter="url(#blur3)"/>
<g clip-path="url(#cl3)">
<path d="M639.5 475.5 C642.37 474.27 646.4 472.73 651.7 471.8 C657 470.87 665.17 470.72 671.3 469.9 C677.43 469.08 684 466.98 688.5 466.9 C693 466.82 695.23 467.77 698.3 469.4 C701.37 471.03 704.95 473.02 706.9 476.7 C708.85 480.38 709.8 487.4 710 491.5 C710.2 495.6 709.03 498.03 708.1 501.3 C707.17 504.57 705.3 507.43 704.4 511.1 C703.5 514.77 703.1 518.4 702.7 523.3 C702.3 528.2 702.33 535.6 702 540.5 C701.67 545.4 700.5 549.43 700.7 552.7 C700.9 555.97 701.57 558.55 703.2 560.1 C704.83 561.65 708.25 562 710.5 562 C712.75 562 715.07 559.6 716.7 560.1 C718.33 560.6 719.7 562.15 720.3 565 C720.9 567.85 720.7 573.12 720.3 577.2 C719.9 581.28 718.92 585.82 717.9 589.5 C716.88 593.18 715.52 596.03 714.2 599.3 C712.88 602.57 711.02 605.83 710 609.1 C708.98 612.37 709.23 615.63 708.1 618.9 C706.97 622.17 705.65 625.83 703.2 628.7 C700.75 631.57 696.67 633.65 693.4 636.1 C690.13 638.55 686.87 640.95 683.6 643.4 C680.33 645.85 677.07 648.75 673.8 650.8 C670.53 652.85 667.27 654.68 664 655.7 C660.73 656.72 655.83 658.13 654.2 656.9 C652.57 655.67 653.8 651.77 654.2 648.3 C654.6 644.83 655.58 640.18 656.6 636.1 C657.62 632.02 658.87 627.9 660.3 623.8 C661.73 619.7 664.58 615.58 665.2 611.5 C665.82 607.42 665.02 602.57 664 599.3 C662.98 596.03 661.55 594.77 659.1 591.9 C656.65 589.03 652.57 585.37 649.3 582.1 C646.03 578.83 642.78 575.57 639.5 572.3 C636.22 569.03 632.47 565.77 629.6 562.5 C626.73 559.23 624.13 556.37 622.3 552.7 C620.47 549.03 619.33 544.98 618.6 540.5 C617.87 536.02 617.98 530.7 617.9 525.8 C617.82 520.9 617.78 515.18 618.1 511.1 C618.42 507.02 618.28 505.4 619.8 501.3 C621.32 497.2 624.75 490.18 627.2 486.5 C629.65 482.82 632.45 481.03 634.5 479.2 C636.55 477.37 636.63 476.73 639.5 475.5Z" fill="none" stroke="#b08a76" stroke-width="16" opacity="0.45" filter="url(#blur6)"/>
<ellipse cx="638" cy="484" rx="10" ry="8" fill="#9a705c" opacity="0.6" filter="url(#blur3)"/>
<ellipse cx="700" cy="490" rx="9" ry="10" fill="#9a705c" opacity="0.6" filter="url(#blur3)"/>
<ellipse cx="627" cy="525" rx="6" ry="10" fill="#9a705c" opacity="0.5" filter="url(#blur3)"/>
<ellipse cx="660" cy="585" rx="22" ry="9" fill="#9a705c" opacity="0.55" filter="url(#blur3)"/>
<ellipse cx="690" cy="590" rx="14" ry="10" fill="#9a705c" opacity="0.5" filter="url(#blur3)"/>
<ellipse cx="668" cy="640" rx="12" ry="8" fill="#9a705c" opacity="0.5" filter="url(#blur3)"/>
<ellipse cx="705" cy="600" rx="8" ry="16" fill="#9a705c" opacity="0.5" filter="url(#blur3)"/>
<path d="M639.5 475.5 C642.37 474.27 646.4 472.73 651.7 471.8 C657 470.87 665.17 470.72 671.3 469.9 C677.43 469.08 684 466.98 688.5 466.9 C693 466.82 695.23 467.77 698.3 469.4 C701.37 471.03 704.95 473.02 706.9 476.7 C708.85 480.38 709.8 487.4 710 491.5 C710.2 495.6 709.03 498.03 708.1 501.3 C707.17 504.57 705.3 507.43 704.4 511.1 C703.5 514.77 703.1 518.4 702.7 523.3 C702.3 528.2 702.33 535.6 702 540.5 C701.67 545.4 700.5 549.43 700.7 552.7 C700.9 555.97 701.57 558.55 703.2 560.1 C704.83 561.65 708.25 562 710.5 562 C712.75 562 715.07 559.6 716.7 560.1 C718.33 560.6 719.7 562.15 720.3 565 C720.9 567.85 720.7 573.12 720.3 577.2 C719.9 581.28 718.92 585.82 717.9 589.5 C716.88 593.18 715.52 596.03 714.2 599.3 C712.88 602.57 711.02 605.83 710 609.1 C708.98 612.37 709.23 615.63 708.1 618.9 C706.97 622.17 705.65 625.83 703.2 628.7 C700.75 631.57 696.67 633.65 693.4 636.1 C690.13 638.55 686.87 640.95 683.6 643.4 C680.33 645.85 677.07 648.75 673.8 650.8 C670.53 652.85 667.27 654.68 664 655.7 C660.73 656.72 655.83 658.13 654.2 656.9 C652.57 655.67 653.8 651.77 654.2 648.3 C654.6 644.83 655.58 640.18 656.6 636.1 C657.62 632.02 658.87 627.9 660.3 623.8 C661.73 619.7 664.58 615.58 665.2 611.5 C665.82 607.42 665.02 602.57 664 599.3 C662.98 596.03 661.55 594.77 659.1 591.9 C656.65 589.03 652.57 585.37 649.3 582.1 C646.03 578.83 642.78 575.57 639.5 572.3 C636.22 569.03 632.47 565.77 629.6 562.5 C626.73 559.23 624.13 556.37 622.3 552.7 C620.47 549.03 619.33 544.98 618.6 540.5 C617.87 536.02 617.98 530.7 617.9 525.8 C617.82 520.9 617.78 515.18 618.1 511.1 C618.42 507.02 618.28 505.4 619.8 501.3 C621.32 497.2 624.75 490.18 627.2 486.5 C629.65 482.82 632.45 481.03 634.5 479.2 C636.55 477.37 636.63 476.73 639.5 475.5Z" fill="#000" filter="url(#speck)" opacity="0.22"/>
</g>
<path d="M646.3 416.7 C648.22 415.97 654.65 415.18 657.8 416 C660.95 416.82 663.85 418.83 665.2 421.6 C666.55 424.37 665.7 428.72 665.9 432.6 C666.1 436.48 666.72 441.83 666.4 444.9 C666.08 447.97 665.22 449.57 664 451 C662.78 452.43 660.33 453.9 659.1 453.5 C657.87 453.1 657.83 451.27 656.6 448.6 C655.37 445.93 653.13 440.98 651.7 437.5 C650.27 434.02 648.9 430.55 648 427.7 C647.1 424.85 646.58 422.23 646.3 420.4 C646.02 418.57 644.38 417.43 646.3 416.7Z" fill="#a87e6c" opacity="0.6" filter="url(#blur3)"/>
<path d="M560 470 Q600 440 640 430 Q660 425 680 440" fill="none" stroke="#f2ebe2" stroke-width="18" opacity="0.35" filter="url(#blur6)"/>
<rect x="514" y="366" width="346" height="346" fill="url(#tv2)"/>
<rect x="514" y="366" width="346" height="346" fill="url(#cv2)"/>
<path d="M646.3 416.7 C648.22 415.97 654.65 415.18 657.8 416 C660.95 416.82 663.85 418.83 665.2 421.6 C666.55 424.37 665.7 428.72 665.9 432.6 C666.1 436.48 666.72 441.83 666.4 444.9 C666.08 447.97 665.22 449.57 664 451 C662.78 452.43 660.33 453.9 659.1 453.5 C657.87 453.1 657.83 451.27 656.6 448.6 C655.37 445.93 653.13 440.98 651.7 437.5 C650.27 434.02 648.9 430.55 648 427.7 C647.1 424.85 646.58 422.23 646.3 420.4 C646.02 418.57 644.38 417.43 646.3 416.7Z" fill="none" stroke="#000" stroke-width="3.5" stroke-dasharray="9.5 9" stroke-linecap="round"/>
<path d="M639.5 475.5 C642.37 474.27 646.4 472.73 651.7 471.8 C657 470.87 665.17 470.72 671.3 469.9 C677.43 469.08 684 466.98 688.5 466.9 C693 466.82 695.23 467.77 698.3 469.4 C701.37 471.03 704.95 473.02 706.9 476.7 C708.85 480.38 709.8 487.4 710 491.5 C710.2 495.6 709.03 498.03 708.1 501.3 C707.17 504.57 705.3 507.43 704.4 511.1 C703.5 514.77 703.1 518.4 702.7 523.3 C702.3 528.2 702.33 535.6 702 540.5 C701.67 545.4 700.5 549.43 700.7 552.7 C700.9 555.97 701.57 558.55 703.2 560.1 C704.83 561.65 708.25 562 710.5 562 C712.75 562 715.07 559.6 716.7 560.1 C718.33 560.6 719.7 562.15 720.3 565 C720.9 567.85 720.7 573.12 720.3 577.2 C719.9 581.28 718.92 585.82 717.9 589.5 C716.88 593.18 715.52 596.03 714.2 599.3 C712.88 602.57 711.02 605.83 710 609.1 C708.98 612.37 709.23 615.63 708.1 618.9 C706.97 622.17 705.65 625.83 703.2 628.7 C700.75 631.57 696.67 633.65 693.4 636.1 C690.13 638.55 686.87 640.95 683.6 643.4 C680.33 645.85 677.07 648.75 673.8 650.8 C670.53 652.85 667.27 654.68 664 655.7 C660.73 656.72 655.83 658.13 654.2 656.9 C652.57 655.67 653.8 651.77 654.2 648.3 C654.6 644.83 655.58 640.18 656.6 636.1 C657.62 632.02 658.87 627.9 660.3 623.8 C661.73 619.7 664.58 615.58 665.2 611.5 C665.82 607.42 665.02 602.57 664 599.3 C662.98 596.03 661.55 594.77 659.1 591.9 C656.65 589.03 652.57 585.37 649.3 582.1 C646.03 578.83 642.78 575.57 639.5 572.3 C636.22 569.03 632.47 565.77 629.6 562.5 C626.73 559.23 624.13 556.37 622.3 552.7 C620.47 549.03 619.33 544.98 618.6 540.5 C617.87 536.02 617.98 530.7 617.9 525.8 C617.82 520.9 617.78 515.18 618.1 511.1 C618.42 507.02 618.28 505.4 619.8 501.3 C621.32 497.2 624.75 490.18 627.2 486.5 C629.65 482.82 632.45 481.03 634.5 479.2 C636.55 477.37 636.63 476.73 639.5 475.5Z" fill="none" stroke="#000" stroke-width="3.5" stroke-dasharray="9.5 9" stroke-linecap="round"/>
</g>
<rect x="515.8" y="368.5" width="340.7" height="340" fill="none" stroke="#000" stroke-width="3"/>
<line x1="747.8" y1="676.5" x2="810.5" y2="676.5" stroke="#000" stroke-width="3.4"/>
<text x="894.24" y="158.76" font-size="75.3" font-weight="bold" textLength="48.73" lengthAdjust="spacingAndGlyphs" fill="#000">b</text>
<line x1="1036.9" y1="202.9" x2="1036.9" y2="591.8" stroke="#000" stroke-width="4.6"/>
<line x1="1027.4" y1="589.6" x2="1037" y2="589.6" stroke="#000" stroke-width="4.6"/>
<line x1="1027.4" y1="493.5" x2="1037" y2="493.5" stroke="#000" stroke-width="4.6"/>
<line x1="1027.4" y1="397.4" x2="1037" y2="397.4" stroke="#000" stroke-width="4.6"/>
<line x1="1027.4" y1="301.3" x2="1037" y2="301.3" stroke="#000" stroke-width="4.6"/>
<line x1="1027.4" y1="205.2" x2="1037" y2="205.2" stroke="#000" stroke-width="4.6"/>
<line x1="1034.6" y1="589.6" x2="1421" y2="589.6" stroke="#000" stroke-width="4.5"/>
<text x="990.49" y="597.38" font-size="22.32" font-weight="bold" textLength="35.56" lengthAdjust="spacingAndGlyphs" fill="#000">0.0</text>
<text x="990.5" y="501.28" font-size="22.32" font-weight="bold" textLength="35.21" lengthAdjust="spacingAndGlyphs" fill="#000">0.5</text>
<text x="989.86" y="405.18" font-size="22.32" font-weight="bold" textLength="36.21" lengthAdjust="spacingAndGlyphs" fill="#000">1.0</text>
<text x="989.88" y="309.08" font-size="22.64" font-weight="bold" textLength="35.84" lengthAdjust="spacingAndGlyphs" fill="#000">1.5</text>
<text x="990.62" y="212.98" font-size="22.32" font-weight="bold" textLength="35.43" lengthAdjust="spacingAndGlyphs" fill="#000">2.0</text>
<line x1="1101.1" y1="589.6" x2="1101.1" y2="599.4" stroke="#000" stroke-width="4.5"/>
<line x1="1229.1" y1="589.6" x2="1229.1" y2="599.4" stroke="#000" stroke-width="4.5"/>
<line x1="1356.9" y1="589.6" x2="1356.9" y2="599.4" stroke="#000" stroke-width="4.5"/>
<path d="M1186.4 590 V379.8 H1271.4 V590" fill="none" stroke="#ff2000" stroke-width="4"/>
<path d="M1315.2 590 V483.9 H1399.8 V590" fill="none" stroke="#8c1f91" stroke-width="4"/>
<line x1="1229.2" y1="350.9" x2="1229.2" y2="408.8" stroke="#ff2000" stroke-width="2.6"/>
<line x1="1206.5" y1="350.9" x2="1252" y2="350.9" stroke="#ff2000" stroke-width="2.4"/>
<line x1="1206.5" y1="408.8" x2="1252" y2="408.8" stroke="#ff2000" stroke-width="2.4"/>
<line x1="1357.1" y1="463.5" x2="1357.1" y2="502.7" stroke="#8c1f91" stroke-width="2.6"/>
<line x1="1334.8" y1="463.5" x2="1379.9" y2="463.5" stroke="#8c1f91" stroke-width="2.4"/>
<line x1="1334.8" y1="502.7" x2="1379.9" y2="502.7" stroke="#8c1f91" stroke-width="2.4"/>
<circle cx="1229.2" cy="286.4" r="7.8" fill="#ff2000"/>
<circle cx="1239.1" cy="340.5" r="7.8" fill="#ff2000"/>
<circle cx="1219.5" cy="346.4" r="7.8" fill="#ff2000"/>
<circle cx="1229.2" cy="378" r="7.8" fill="#ff2000"/>
<circle cx="1238.6" cy="459.9" r="7.8" fill="#ff2000"/>
<circle cx="1219.5" cy="466.7" r="7.8" fill="#ff2000"/>
<rect x="1350.4" y="405.7" width="13.4" height="13.4" rx="2" fill="#8c1f91"/>
<rect x="1350.4" y="436.8" width="13.4" height="13.4" rx="2" fill="#8c1f91"/>
<rect x="1343.3" y="456.4" width="13.4" height="13.4" rx="2" fill="#8c1f91"/>
<rect x="1358.4" y="455.9" width="13.4" height="13.4" rx="2" fill="#8c1f91"/>
<rect x="1343.3" y="511.7" width="13.4" height="13.4" rx="2" fill="#8c1f91"/>
<rect x="1358.4" y="524.5" width="13.4" height="13.4" rx="2" fill="#8c1f91"/>
<rect x="1350.4" y="548.2" width="13.4" height="13.4" rx="2" fill="#8c1f91"/>
<path d="M1072.1 583.6 L1065.1 596.4 L1079.1 596.4 Z" fill="#000" stroke="#000" stroke-width="1.5" stroke-linejoin="round"/>
<path d="M1091.1 583.6 L1084.1 596.4 L1098.1 596.4 Z" fill="#000" stroke="#000" stroke-width="1.5" stroke-linejoin="round"/>
<path d="M1110.1 583.6 L1103.1 596.4 L1117.1 596.4 Z" fill="#000" stroke="#000" stroke-width="1.5" stroke-linejoin="round"/>
<path d="M1129.7 583.6 L1122.7 596.4 L1136.7 596.4 Z" fill="#000" stroke="#000" stroke-width="1.5" stroke-linejoin="round"/>
<text x="1066.48" y="628" font-size="22.63" font-weight="bold" textLength="68.28" lengthAdjust="spacingAndGlyphs" fill="#000">Sham</text>
<text x="1184.63" y="628" font-size="24.43" font-weight="bold" textLength="88.54" lengthAdjust="spacingAndGlyphs" fill="#000">Vehicle</text>
<text x="1316.93" y="628" font-size="23.49" font-weight="bold" textLength="79.1" lengthAdjust="spacingAndGlyphs" fill="#000">1400W</text>
<line x1="1180" y1="647" x2="1417.7" y2="647" stroke="#000" stroke-width="4.3"/>
<text x="1272.65" y="682.8" font-size="32.65" font-weight="bold" textLength="60.52" lengthAdjust="spacingAndGlyphs" fill="#000">ICH</text>
<line x1="1215.7" y1="219.3" x2="1348.1" y2="219.3" stroke="#000" stroke-width="6.6"/>
<text x="1278.55" y="204.1" font-size="36.84" font-weight="normal" textLength="19.02" lengthAdjust="spacingAndGlyphs" fill="#000">#</text>
<text x="1200.56" y="274.1" font-size="42.73" font-weight="bold" textLength="56.49" lengthAdjust="spacingAndGlyphs" fill="#000">***</text>
<text x="1345.38" y="386.11" font-size="40.85" font-weight="bold" textLength="16.26" lengthAdjust="spacingAndGlyphs" fill="#000">*</text>
<text transform="translate(932,566.8) rotate(-90)" x="-1.84" y="0" font-size="30" font-weight="bold" textLength="347.17" lengthAdjust="spacingAndGlyphs" fill="#000">Nitrotyrosine positive area</text>
<text transform="translate(966.8,431.2) rotate(-90)" x="-1.31" y="0" font-size="33" font-weight="bold" textLength="55.65" lengthAdjust="spacingAndGlyphs" fill="#000">(mm</text>
<text transform="translate(966.8,361) rotate(-90)" x="-0.02" y="0" font-size="31" font-weight="bold" textLength="7.08" lengthAdjust="spacingAndGlyphs" fill="#000">)</text>
<text transform="translate(957.4,378) rotate(-90)" x="0" y="0" font-size="20" font-weight="bold">2</text>
<line x1="193" y1="880.5" x2="193" y2="1238.5" stroke="#000" stroke-width="3"/>
<line x1="186.5" y1="1237" x2="193" y2="1237" stroke="#000" stroke-width="3"/>
<line x1="186.5" y1="1165.95" x2="193" y2="1165.95" stroke="#000" stroke-width="3"/>
<line x1="186.5" y1="1094.9" x2="193" y2="1094.9" stroke="#000" stroke-width="3"/>
<line x1="186.5" y1="1023.85" x2="193" y2="1023.85" stroke="#000" stroke-width="3"/>
<line x1="186.5" y1="952.8" x2="193" y2="952.8" stroke="#000" stroke-width="3"/>
<line x1="186.5" y1="881.75" x2="193" y2="881.75" stroke="#000" stroke-width="3"/>
<line x1="191.5" y1="1237" x2="674.8" y2="1237" stroke="#000" stroke-width="3"/>
<text x="126.8" y="1175.03" font-size="34.2" font-weight="normal" textLength="38.04" lengthAdjust="spacingAndGlyphs" fill="#000">20</text>
<text x="126.8" y="1103.98" font-size="34.2" font-weight="normal" textLength="38.04" lengthAdjust="spacingAndGlyphs" fill="#000">40</text>
<text x="126.8" y="1032.93" font-size="34.2" font-weight="normal" textLength="38.04" lengthAdjust="spacingAndGlyphs" fill="#000">60</text>
<text x="126.8" y="961.88" font-size="34.2" font-weight="normal" textLength="38.04" lengthAdjust="spacingAndGlyphs" fill="#000">80</text>
<text x="109.47" y="890.57" font-size="33.47" font-weight="normal" textLength="55.32" lengthAdjust="spacingAndGlyphs" fill="#000">100</text>
<text x="145.82" y="1246.08" font-size="34.2" font-weight="normal" textLength="19.02" lengthAdjust="spacingAndGlyphs" fill="#000">0</text>
<text x="186.68" y="1283.46" font-size="34.6" font-weight="normal" textLength="19.24" lengthAdjust="spacingAndGlyphs" fill="#000">0</text>
<text x="221.56" y="1283.46" font-size="34.6" font-weight="normal" textLength="19.24" lengthAdjust="spacingAndGlyphs" fill="#000">6</text>
<text x="321.59" y="1283.46" font-size="34.6" font-weight="normal" textLength="38.49" lengthAdjust="spacingAndGlyphs" fill="#000">24</text>
<text x="473.51" y="1283.46" font-size="34.6" font-weight="normal" textLength="38.49" lengthAdjust="spacingAndGlyphs" fill="#000">48</text>
<text x="623.83" y="1283.46" font-size="34.6" font-weight="normal" textLength="38.49" lengthAdjust="spacingAndGlyphs" fill="#000">72</text>
<text x="671.36" y="1283.37" font-size="34.6" font-weight="normal" textLength="42.29" lengthAdjust="spacingAndGlyphs" fill="#000">(h)</text>
<text x="215.16" y="827.4" font-size="48.85" font-weight="normal" textLength="392.59" lengthAdjust="spacingAndGlyphs" fill="#000">Beam-walking test</text>
<text transform="translate(96.3,1152.2) rotate(-90)" x="-3.13" y="0" font-size="40.4" font-weight="normal" textLength="231.3" lengthAdjust="spacingAndGlyphs" fill="#000">Fault rate (%)</text>
<text x="58.96" y="818.46" font-size="76.12" font-weight="bold" textLength="43.33" lengthAdjust="spacingAndGlyphs" fill="#000">c</text>
<polyline points="195.7,1236 231.5,1224 343.6,1232.25 492.9,1234.15 641.2,1235.45" fill="none" stroke="#000" stroke-width="2.8" stroke-linejoin="round" stroke-dasharray="12.5 12"/>
<path d="M193.7 1227.52 L182.77 1245.8 L204.63 1245.8 Z" fill="#fff" stroke="#000" stroke-width="2.4" stroke-linejoin="miter" stroke-miterlimit="10"/>
<path d="M231.5 1215.02 L220.57 1234.3 L242.43 1234.3 Z" fill="#fff" stroke="#000" stroke-width="2.4" stroke-linejoin="miter" stroke-miterlimit="10"/>
<path d="M343.6 1223.02 L332.67 1242.8 L354.53 1242.8 Z" fill="#fff" stroke="#000" stroke-width="2.4" stroke-linejoin="miter" stroke-miterlimit="10"/>
<path d="M492.9 1224.52 L481.97 1245.1 L503.83 1245.1 Z" fill="#fff" stroke="#000" stroke-width="2.4" stroke-linejoin="miter" stroke-miterlimit="10"/>
<path d="M641.2 1226.02 L630.27 1246.2 L652.13 1246.2 Z" fill="#fff" stroke="#000" stroke-width="2.4" stroke-linejoin="miter" stroke-miterlimit="10"/>
<line x1="191.5" y1="1237" x2="674.8" y2="1237" stroke="#000" stroke-width="3"/>
<polyline points="195.7,1232 231.5,898 343.6,899.9 492.9,943.9 641.2,1006.4" fill="none" stroke="#ff0000" stroke-width="5.6" stroke-linejoin="round"/>
<line x1="231.5" y1="889" x2="231.5" y2="904" stroke="#ff0000" stroke-width="2.3"/>
<line x1="226" y1="889" x2="237" y2="889" stroke="#ff0000" stroke-width="3.1"/>
<line x1="226" y1="904" x2="237" y2="904" stroke="#ff0000" stroke-width="3.1"/>
<line x1="343.6" y1="881.8" x2="343.6" y2="916.8" stroke="#ff0000" stroke-width="2.3"/>
<line x1="338.1" y1="881.8" x2="349.1" y2="881.8" stroke="#ff0000" stroke-width="3.1"/>
<line x1="338.1" y1="916.8" x2="349.1" y2="916.8" stroke="#ff0000" stroke-width="3.1"/>
<line x1="492.9" y1="916.4" x2="492.9" y2="972.5" stroke="#ff0000" stroke-width="2.3"/>
<line x1="487.4" y1="916.4" x2="498.4" y2="916.4" stroke="#ff0000" stroke-width="3.1"/>
<line x1="487.4" y1="972.5" x2="498.4" y2="972.5" stroke="#ff0000" stroke-width="3.1"/>
<line x1="641.2" y1="956.5" x2="641.2" y2="1054.5" stroke="#ff0000" stroke-width="2.3"/>
<line x1="635.7" y1="956.5" x2="646.7" y2="956.5" stroke="#ff0000" stroke-width="3.1"/>
<line x1="635.7" y1="1054.5" x2="646.7" y2="1054.5" stroke="#ff0000" stroke-width="3.1"/>
<circle cx="195.7" cy="1232" r="12.8" fill="#ff0000"/>
<circle cx="231.5" cy="898" r="12.8" fill="#ff0000"/>
<circle cx="343.6" cy="899.9" r="12.8" fill="#ff0000"/>
<circle cx="492.9" cy="943.9" r="12.8" fill="#ff0000"/>
<circle cx="641.2" cy="1006.4" r="12.8" fill="#ff0000"/>
<polyline points="195.7,1235.7 231.5,915.3 343.6,974.3 492.9,1055.7 641.2,1102.6" fill="none" stroke="#000" stroke-width="5.8" stroke-linejoin="round"/>
<line x1="231.5" y1="905" x2="231.5" y2="926" stroke="#7030a0" stroke-width="2.3"/>
<line x1="226" y1="905" x2="237" y2="905" stroke="#7030a0" stroke-width="3.1"/>
<line x1="226" y1="926" x2="237" y2="926" stroke="#7030a0" stroke-width="3.1"/>
<line x1="343.6" y1="941" x2="343.6" y2="1006" stroke="#7030a0" stroke-width="2.3"/>
<line x1="338.1" y1="941" x2="349.1" y2="941" stroke="#7030a0" stroke-width="3.1"/>
<line x1="338.1" y1="1006" x2="349.1" y2="1006" stroke="#7030a0" stroke-width="3.1"/>
<line x1="492.9" y1="1019.5" x2="492.9" y2="1089.8" stroke="#7030a0" stroke-width="2.3"/>
<line x1="487.4" y1="1019.5" x2="498.4" y2="1019.5" stroke="#7030a0" stroke-width="3.1"/>
<line x1="487.4" y1="1089.8" x2="498.4" y2="1089.8" stroke="#7030a0" stroke-width="3.1"/>
<line x1="641.2" y1="1072.2" x2="641.2" y2="1132.9" stroke="#7030a0" stroke-width="2.3"/>
<line x1="635.7" y1="1072.2" x2="646.7" y2="1072.2" stroke="#7030a0" stroke-width="3.1"/>
<line x1="635.7" y1="1132.9" x2="646.7" y2="1132.9" stroke="#7030a0" stroke-width="3.1"/>
<rect x="185" y="1225" width="21.4" height="21.4" fill="#7030a0"/>
<rect x="220.8" y="904.6" width="21.4" height="21.4" fill="#7030a0"/>
<rect x="332.9" y="963.6" width="21.4" height="21.4" fill="#7030a0"/>
<rect x="482.2" y="1045" width="21.4" height="21.4" fill="#7030a0"/>
<rect x="630.5" y="1091.9" width="21.4" height="21.4" fill="#7030a0"/>
<text x="231.63" y="890.56" font-size="38.17" font-weight="normal" textLength="48.21" lengthAdjust="spacingAndGlyphs" fill="#000" stroke="#000" stroke-width="0.6" stroke-linejoin="round">***</text>
<text x="357.63" y="904.58" font-size="36.74" font-weight="normal" textLength="48.72" lengthAdjust="spacingAndGlyphs" fill="#000" stroke="#000" stroke-width="0.6" stroke-linejoin="round">***</text>
<text x="236.24" y="980.39" font-size="35.89" font-weight="normal" textLength="48.11" lengthAdjust="spacingAndGlyphs" fill="#000" stroke="#000" stroke-width="0.6" stroke-linejoin="round">***</text>
<text x="335.85" y="1037.2" font-size="35.32" font-weight="normal" textLength="47.29" lengthAdjust="spacingAndGlyphs" fill="#000" stroke="#000" stroke-width="0.6" stroke-linejoin="round">***</text>
<text x="474.03" y="912.77" font-size="37.6" font-weight="normal" textLength="48.83" lengthAdjust="spacingAndGlyphs" fill="#000" stroke="#000" stroke-width="0.6" stroke-linejoin="round">***</text>
<text x="613.83" y="951.5" font-size="35.61" font-weight="normal" textLength="48.83" lengthAdjust="spacingAndGlyphs" fill="#000" stroke="#000" stroke-width="0.6" stroke-linejoin="round">***</text>
<text x="509.63" y="1031.4" font-size="35.04" font-weight="normal" textLength="48.72" lengthAdjust="spacingAndGlyphs" fill="#000" stroke="#000" stroke-width="0.6" stroke-linejoin="round">***</text>
<text x="522.03" y="1050.4" font-size="28.48" font-weight="bold" textLength="30.72" lengthAdjust="spacingAndGlyphs" fill="#000">##</text>
<text x="625.26" y="1169.71" font-size="34.75" font-weight="normal" textLength="31.07" lengthAdjust="spacingAndGlyphs" fill="#000" stroke="#000" stroke-width="0.6" stroke-linejoin="round">**</text>
<text x="633.15" y="1187.8" font-size="26.87" font-weight="bold" textLength="14.68" lengthAdjust="spacingAndGlyphs" fill="#000">#</text>
<line x1="843.3" y1="858.5" x2="843.3" y2="1230.5" stroke="#000" stroke-width="3.5"/>
<line x1="836" y1="1228.7" x2="843.3" y2="1228.7" stroke="#000" stroke-width="3.5"/>
<line x1="836" y1="1195.21" x2="843.3" y2="1195.21" stroke="#000" stroke-width="3.5"/>
<line x1="836" y1="1161.72" x2="843.3" y2="1161.72" stroke="#000" stroke-width="3.5"/>
<line x1="836" y1="1128.23" x2="843.3" y2="1128.23" stroke="#000" stroke-width="3.5"/>
<line x1="836" y1="1094.74" x2="843.3" y2="1094.74" stroke="#000" stroke-width="3.5"/>
<line x1="836" y1="1061.25" x2="843.3" y2="1061.25" stroke="#000" stroke-width="3.5"/>
<line x1="836" y1="1027.76" x2="843.3" y2="1027.76" stroke="#000" stroke-width="3.5"/>
<line x1="836" y1="994.27" x2="843.3" y2="994.27" stroke="#000" stroke-width="3.5"/>
<line x1="836" y1="960.78" x2="843.3" y2="960.78" stroke="#000" stroke-width="3.5"/>
<line x1="836" y1="927.29" x2="843.3" y2="927.29" stroke="#000" stroke-width="3.5"/>
<line x1="836" y1="893.8" x2="843.3" y2="893.8" stroke="#000" stroke-width="3.5"/>
<line x1="836" y1="860.31" x2="843.3" y2="860.31" stroke="#000" stroke-width="3.5"/>
<line x1="848.8" y1="1228.9" x2="1341.7" y2="1228.9" stroke="#000" stroke-width="3.5"/>
<text x="799.06" y="1238.56" font-size="31.6" font-weight="normal" textLength="17.57" lengthAdjust="spacingAndGlyphs" fill="#000">0</text>
<text x="795.07" y="1204.75" font-size="31.6" font-weight="normal" textLength="17.57" lengthAdjust="spacingAndGlyphs" fill="#000">1</text>
<text x="799.41" y="1171.58" font-size="31.6" font-weight="normal" textLength="17.57" lengthAdjust="spacingAndGlyphs" fill="#000">2</text>
<text x="799.21" y="1138.09" font-size="31.6" font-weight="normal" textLength="17.57" lengthAdjust="spacingAndGlyphs" fill="#000">3</text>
<text x="798.75" y="1104.28" font-size="31.6" font-weight="normal" textLength="17.57" lengthAdjust="spacingAndGlyphs" fill="#000">4</text>
<text x="799.15" y="1070.79" font-size="31.6" font-weight="normal" textLength="17.57" lengthAdjust="spacingAndGlyphs" fill="#000">5</text>
<text x="799.21" y="1037.62" font-size="31.6" font-weight="normal" textLength="17.57" lengthAdjust="spacingAndGlyphs" fill="#000">6</text>
<text x="799.41" y="1003.81" font-size="31.6" font-weight="normal" textLength="17.57" lengthAdjust="spacingAndGlyphs" fill="#000">7</text>
<text x="799.2" y="970.64" font-size="31.6" font-weight="normal" textLength="17.57" lengthAdjust="spacingAndGlyphs" fill="#000">8</text>
<text x="799.32" y="937.15" font-size="31.6" font-weight="normal" textLength="17.57" lengthAdjust="spacingAndGlyphs" fill="#000">9</text>
<text x="781.49" y="903.66" font-size="31.6" font-weight="normal" textLength="35.15" lengthAdjust="spacingAndGlyphs" fill="#000">10</text>
<text x="784.06" y="870.41" font-size="32.41" font-weight="normal" textLength="28.28" lengthAdjust="spacingAndGlyphs" fill="#000">11</text>
<text x="838.65" y="1272.04" font-size="34" font-weight="normal" textLength="18.91" lengthAdjust="spacingAndGlyphs" fill="#000">0</text>
<text x="883.83" y="1272.04" font-size="34" font-weight="normal" textLength="18.91" lengthAdjust="spacingAndGlyphs" fill="#000">6</text>
<text x="982.23" y="1272.04" font-size="34" font-weight="normal" textLength="37.82" lengthAdjust="spacingAndGlyphs" fill="#000">24</text>
<text x="1136.94" y="1272.04" font-size="34" font-weight="normal" textLength="37.82" lengthAdjust="spacingAndGlyphs" fill="#000">48</text>
<text x="1302.46" y="1272.04" font-size="34" font-weight="normal" textLength="37.82" lengthAdjust="spacingAndGlyphs" fill="#000">72</text>
<text x="1352.55" y="1271.64" font-size="34" font-weight="normal" textLength="41.55" lengthAdjust="spacingAndGlyphs" fill="#000">(h)</text>
<text x="874.26" y="816" font-size="47.61" font-weight="normal" textLength="392.09" lengthAdjust="spacingAndGlyphs" fill="#000">Beam-walking test</text>
<text transform="translate(770.5,1226.4) rotate(-90)" x="-0.12" y="0" font-size="28.5" font-weight="normal" textLength="231.69" lengthAdjust="spacingAndGlyphs" fill="#000">Walking distance (</text>
<text transform="translate(770.5,987) rotate(-90)" x="-2.26" y="0" font-size="28.5" font-weight="normal" textLength="18.99" lengthAdjust="spacingAndGlyphs" fill="#000">×</text>
<text transform="translate(770.5,963.5) rotate(-90)" x="-2.27" y="0" font-size="28.5" font-weight="normal" textLength="117.41" lengthAdjust="spacingAndGlyphs" fill="#000">100 mm)</text>
<text x="683.48" y="820.76" font-size="75.71" font-weight="bold" textLength="47.88" lengthAdjust="spacingAndGlyphs" fill="#000">d</text>
<polyline points="866.5,860.6 1330,860.6" fill="none" stroke="#000" stroke-width="2.6" stroke-linejoin="round" stroke-dasharray="13.5 11"/>
<path d="M844.6 850.72 L833.67 871 L855.53 871 Z" fill="#fff" stroke="#000" stroke-width="2.4" stroke-linejoin="miter" stroke-miterlimit="10"/>
<path d="M882.2 850.72 L871.27 871 L893.13 871 Z" fill="#fff" stroke="#000" stroke-width="2.4" stroke-linejoin="miter" stroke-miterlimit="10"/>
<path d="M1001 850.72 L990.07 871 L1011.93 871 Z" fill="#fff" stroke="#000" stroke-width="2.4" stroke-linejoin="miter" stroke-miterlimit="10"/>
<path d="M1158.5 850.72 L1147.57 871 L1169.43 871 Z" fill="#fff" stroke="#000" stroke-width="2.4" stroke-linejoin="miter" stroke-miterlimit="10"/>
<path d="M1315.6 850.72 L1304.67 871 L1326.53 871 Z" fill="#fff" stroke="#000" stroke-width="2.4" stroke-linejoin="miter" stroke-miterlimit="10"/>
<polyline points="844.6,860.8 883.2,1199.6 1001,1191.8 1158.5,1091.2 1315.6,1013.2" fill="none" stroke="#ff0000" stroke-width="5.4" stroke-linejoin="round"/>
<line x1="883.2" y1="1185" x2="883.2" y2="1214.2" stroke="#ff0000" stroke-width="2.3"/>
<line x1="877.7" y1="1185" x2="888.7" y2="1185" stroke="#ff0000" stroke-width="3.1"/>
<line x1="877.7" y1="1214.2" x2="888.7" y2="1214.2" stroke="#ff0000" stroke-width="3.1"/>
<line x1="1001" y1="1157.5" x2="1001" y2="1222" stroke="#ff0000" stroke-width="2.3"/>
<line x1="995.5" y1="1157.5" x2="1006.5" y2="1157.5" stroke="#ff0000" stroke-width="3.1"/>
<line x1="995.5" y1="1222" x2="1006.5" y2="1222" stroke="#ff0000" stroke-width="3.1"/>
<line x1="1158.5" y1="1041.4" x2="1158.5" y2="1140.3" stroke="#ff0000" stroke-width="2.3"/>
<line x1="1153" y1="1041.4" x2="1164" y2="1041.4" stroke="#ff0000" stroke-width="3.1"/>
<line x1="1153" y1="1140.3" x2="1164" y2="1140.3" stroke="#ff0000" stroke-width="3.1"/>
<line x1="1315.6" y1="966.8" x2="1315.6" y2="1059.4" stroke="#ff0000" stroke-width="2.3"/>
<line x1="1310.1" y1="966.8" x2="1321.1" y2="966.8" stroke="#ff0000" stroke-width="3.1"/>
<line x1="1310.1" y1="1059.4" x2="1321.1" y2="1059.4" stroke="#ff0000" stroke-width="3.1"/>
<circle cx="844.6" cy="860.8" r="12.5" fill="#ff0000"/>
<circle cx="883.2" cy="1199.6" r="12.5" fill="#ff0000"/>
<circle cx="1001" cy="1191.8" r="12.5" fill="#ff0000"/>
<circle cx="1158.5" cy="1091.2" r="12.5" fill="#ff0000"/>
<circle cx="1315.6" cy="1013.2" r="12.5" fill="#ff0000"/>
<polyline points="844.6,860.8 883.2,1149.6 1001,1102.8 1158.5,987 1315.6,922.5" fill="none" stroke="#7030a0" stroke-width="5.4" stroke-linejoin="round"/>
<line x1="883.2" y1="1126" x2="883.2" y2="1172.3" stroke="#7030a0" stroke-width="2.3"/>
<line x1="877.7" y1="1126" x2="888.7" y2="1126" stroke="#7030a0" stroke-width="3.1"/>
<line x1="877.7" y1="1172.3" x2="888.7" y2="1172.3" stroke="#7030a0" stroke-width="3.1"/>
<line x1="1001" y1="1065.6" x2="1001" y2="1136.4" stroke="#7030a0" stroke-width="2.3"/>
<line x1="995.5" y1="1065.6" x2="1006.5" y2="1065.6" stroke="#7030a0" stroke-width="3.1"/>
<line x1="995.5" y1="1136.4" x2="1006.5" y2="1136.4" stroke="#7030a0" stroke-width="3.1"/>
<line x1="1158.5" y1="946.4" x2="1158.5" y2="1026.4" stroke="#7030a0" stroke-width="2.3"/>
<line x1="1153" y1="946.4" x2="1164" y2="946.4" stroke="#7030a0" stroke-width="3.1"/>
<line x1="1153" y1="1026.4" x2="1164" y2="1026.4" stroke="#7030a0" stroke-width="3.1"/>
<line x1="1315.6" y1="885.6" x2="1315.6" y2="960.5" stroke="#7030a0" stroke-width="2.3"/>
<line x1="1310.1" y1="885.6" x2="1321.1" y2="885.6" stroke="#7030a0" stroke-width="3.1"/>
<line x1="1310.1" y1="960.5" x2="1321.1" y2="960.5" stroke="#7030a0" stroke-width="3.1"/>
<rect x="834.1" y="850.3" width="21" height="21" fill="#7030a0"/>
<rect x="872.7" y="1139.1" width="21" height="21" fill="#7030a0"/>
<rect x="990.5" y="1092.3" width="21" height="21" fill="#7030a0"/>
<rect x="1148" y="976.5" width="21" height="21" fill="#7030a0"/>
<rect x="1305.1" y="912" width="21" height="21" fill="#7030a0"/>
<text x="887.92" y="1126.6" font-size="35.32" font-weight="normal" textLength="48.93" lengthAdjust="spacingAndGlyphs" fill="#000" stroke="#000" stroke-width="0.6" stroke-linejoin="round">***</text>
<text x="894.63" y="1234.3" font-size="35.32" font-weight="normal" textLength="48.52" lengthAdjust="spacingAndGlyphs" fill="#000" stroke="#000" stroke-width="0.6" stroke-linejoin="round">***</text>
<text x="979.01" y="1065.1" font-size="35.32" font-weight="normal" textLength="49.86" lengthAdjust="spacingAndGlyphs" fill="#000" stroke="#000" stroke-width="0.6" stroke-linejoin="round">***</text>
<text x="1023.03" y="1227.69" font-size="35.89" font-weight="normal" textLength="48.62" lengthAdjust="spacingAndGlyphs" fill="#000" stroke="#000" stroke-width="0.6" stroke-linejoin="round">***</text>
<text x="1170.56" y="1022.84" font-size="32.19" font-weight="normal" textLength="13.07" lengthAdjust="spacingAndGlyphs" fill="#000" stroke="#000" stroke-width="0.6" stroke-linejoin="round">*</text>
<text x="1136.93" y="1181.19" font-size="35.89" font-weight="normal" textLength="48.62" lengthAdjust="spacingAndGlyphs" fill="#000" stroke="#000" stroke-width="0.6" stroke-linejoin="round">***</text>
<text x="1309.92" y="1095.4" font-size="35.32" font-weight="normal" textLength="14.05" lengthAdjust="spacingAndGlyphs" fill="#000" stroke="#000" stroke-width="0.6" stroke-linejoin="round">*</text>
<line x1="188.3" y1="1443" x2="188.3" y2="1784.5" stroke="#000" stroke-width="3"/>
<line x1="181.5" y1="1783" x2="188.3" y2="1783" stroke="#000" stroke-width="3"/>
<line x1="181.5" y1="1734.7" x2="188.3" y2="1734.7" stroke="#000" stroke-width="3"/>
<line x1="181.5" y1="1686.4" x2="188.3" y2="1686.4" stroke="#000" stroke-width="3"/>
<line x1="181.5" y1="1638.1" x2="188.3" y2="1638.1" stroke="#000" stroke-width="3"/>
<line x1="181.5" y1="1589.8" x2="188.3" y2="1589.8" stroke="#000" stroke-width="3"/>
<line x1="181.5" y1="1541.5" x2="188.3" y2="1541.5" stroke="#000" stroke-width="3"/>
<line x1="181.5" y1="1493.2" x2="188.3" y2="1493.2" stroke="#000" stroke-width="3"/>
<line x1="181.5" y1="1444.9" x2="188.3" y2="1444.9" stroke="#000" stroke-width="3"/>
<line x1="181.2" y1="1787.2" x2="662" y2="1787.2" stroke="#000" stroke-width="3"/>
<text x="140.5" y="1792.45" font-size="31.3" font-weight="normal" textLength="19.15" lengthAdjust="spacingAndGlyphs" fill="#000">0</text>
<text x="140.83" y="1743.83" font-size="31.3" font-weight="normal" textLength="19.15" lengthAdjust="spacingAndGlyphs" fill="#000">1</text>
<text x="140.88" y="1695.85" font-size="31.3" font-weight="normal" textLength="19.15" lengthAdjust="spacingAndGlyphs" fill="#000">2</text>
<text x="140.66" y="1647.55" font-size="31.3" font-weight="normal" textLength="19.15" lengthAdjust="spacingAndGlyphs" fill="#000">3</text>
<text x="140.16" y="1598.93" font-size="31.3" font-weight="normal" textLength="19.15" lengthAdjust="spacingAndGlyphs" fill="#000">4</text>
<text x="140.6" y="1550.63" font-size="31.3" font-weight="normal" textLength="19.15" lengthAdjust="spacingAndGlyphs" fill="#000">5</text>
<text x="140.66" y="1502.65" font-size="31.3" font-weight="normal" textLength="19.15" lengthAdjust="spacingAndGlyphs" fill="#000">6</text>
<text x="140.88" y="1454.03" font-size="31.3" font-weight="normal" textLength="19.15" lengthAdjust="spacingAndGlyphs" fill="#000">7</text>
<text x="166.94" y="1829.49" font-size="31.5" font-weight="normal" textLength="17.52" lengthAdjust="spacingAndGlyphs" fill="#000">0</text>
<text x="218.93" y="1829.49" font-size="31.5" font-weight="normal" textLength="17.52" lengthAdjust="spacingAndGlyphs" fill="#000">6</text>
<text x="310.85" y="1829.49" font-size="31.5" font-weight="normal" textLength="35.04" lengthAdjust="spacingAndGlyphs" fill="#000">24</text>
<text x="467.5" y="1829.49" font-size="31.5" font-weight="normal" textLength="35.04" lengthAdjust="spacingAndGlyphs" fill="#000">48</text>
<text x="615.09" y="1829.49" font-size="31.5" font-weight="normal" textLength="35.04" lengthAdjust="spacingAndGlyphs" fill="#000">72</text>
<text x="665.86" y="1829.33" font-size="31.5" font-weight="normal" textLength="38.5" lengthAdjust="spacingAndGlyphs" fill="#000">(h)</text>
<text x="216.46" y="1386" font-size="47.61" font-weight="normal" textLength="392.59" lengthAdjust="spacingAndGlyphs" fill="#000">Beam-walking test</text>
<text transform="translate(108.4,1670.5) rotate(-90)" x="-1.72" y="0" font-size="40.4" font-weight="normal" textLength="99.21" lengthAdjust="spacingAndGlyphs" fill="#000">Score</text>
<text x="68.79" y="1382.05" font-size="76.48" font-weight="bold" textLength="42.84" lengthAdjust="spacingAndGlyphs" fill="#000">e</text>
<polyline points="189.3,1446 226,1448 339.6,1445 640.2,1444.5" fill="none" stroke="#000" stroke-width="2.6" stroke-linejoin="round" stroke-dasharray="14 11"/>
<path d="M188.8 1437.52 L177.87 1455.8 L199.73 1455.8 Z" fill="#fff" stroke="#000" stroke-width="2.4" stroke-linejoin="miter" stroke-miterlimit="10"/>
<path d="M225.5 1438.52 L214.57 1458.8 L236.43 1458.8 Z" fill="#fff" stroke="#000" stroke-width="2.4" stroke-linejoin="miter" stroke-miterlimit="10"/>
<path d="M339.1 1435.02 L328.17 1455.3 L350.03 1455.3 Z" fill="#fff" stroke="#000" stroke-width="2.4" stroke-linejoin="miter" stroke-miterlimit="10"/>
<path d="M490 1435.02 L479.07 1455.3 L500.93 1455.3 Z" fill="#fff" stroke="#000" stroke-width="2.4" stroke-linejoin="miter" stroke-miterlimit="10"/>
<path d="M639.7 1435.02 L628.77 1455.3 L650.63 1455.3 Z" fill="#fff" stroke="#000" stroke-width="2.4" stroke-linejoin="miter" stroke-miterlimit="10"/>
<polyline points="189.3,1446 226,1743.9 339.6,1761 490.5,1678.1 640.2,1606.3" fill="none" stroke="#ff0000" stroke-width="5.4" stroke-linejoin="round"/>
<line x1="226" y1="1728" x2="226" y2="1759" stroke="#ff0000" stroke-width="2.3"/>
<line x1="220.5" y1="1728" x2="231.5" y2="1728" stroke="#ff0000" stroke-width="3.1"/>
<line x1="220.5" y1="1759" x2="231.5" y2="1759" stroke="#ff0000" stroke-width="3.1"/>
<line x1="339.6" y1="1745" x2="339.6" y2="1772.8" stroke="#ff0000" stroke-width="2.3"/>
<line x1="334.1" y1="1745" x2="345.1" y2="1745" stroke="#ff0000" stroke-width="3.1"/>
<line x1="334.1" y1="1772.8" x2="345.1" y2="1772.8" stroke="#ff0000" stroke-width="3.1"/>
<line x1="490.5" y1="1653.4" x2="490.5" y2="1702.6" stroke="#ff0000" stroke-width="2.3"/>
<line x1="485" y1="1653.4" x2="496" y2="1653.4" stroke="#ff0000" stroke-width="3.1"/>
<line x1="485" y1="1702.6" x2="496" y2="1702.6" stroke="#ff0000" stroke-width="3.1"/>
<line x1="640.2" y1="1571.7" x2="640.2" y2="1639.5" stroke="#ff0000" stroke-width="2.3"/>
<line x1="634.7" y1="1571.7" x2="645.7" y2="1571.7" stroke="#ff0000" stroke-width="3.1"/>
<line x1="634.7" y1="1639.5" x2="645.7" y2="1639.5" stroke="#ff0000" stroke-width="3.1"/>
<circle cx="189.3" cy="1446" r="12.3" fill="#ff0000"/>
<circle cx="226" cy="1743.9" r="12.3" fill="#ff0000"/>
<circle cx="339.6" cy="1761" r="12.3" fill="#ff0000"/>
<circle cx="490.5" cy="1678.1" r="12.3" fill="#ff0000"/>
<circle cx="640.2" cy="1606.3" r="12.3" fill="#ff0000"/>
<polyline points="189.3,1446 226,1721 339.6,1679.6 490.5,1599.3 640.2,1539.7" fill="none" stroke="#7030a0" stroke-width="5.4" stroke-linejoin="round"/>
<line x1="226" y1="1698.5" x2="226" y2="1733" stroke="#7030a0" stroke-width="2.3"/>
<line x1="220.5" y1="1698.5" x2="231.5" y2="1698.5" stroke="#7030a0" stroke-width="3.1"/>
<line x1="220.5" y1="1733" x2="231.5" y2="1733" stroke="#7030a0" stroke-width="3.1"/>
<line x1="339.6" y1="1656.9" x2="339.6" y2="1702.3" stroke="#7030a0" stroke-width="2.3"/>
<line x1="334.1" y1="1656.9" x2="345.1" y2="1656.9" stroke="#7030a0" stroke-width="3.1"/>
<line x1="334.1" y1="1702.3" x2="345.1" y2="1702.3" stroke="#7030a0" stroke-width="3.1"/>
<line x1="490.5" y1="1569" x2="490.5" y2="1629.7" stroke="#7030a0" stroke-width="2.3"/>
<line x1="485" y1="1569" x2="496" y2="1569" stroke="#7030a0" stroke-width="3.1"/>
<line x1="485" y1="1629.7" x2="496" y2="1629.7" stroke="#7030a0" stroke-width="3.1"/>
<line x1="640.2" y1="1510.5" x2="640.2" y2="1566.9" stroke="#7030a0" stroke-width="2.3"/>
<line x1="634.7" y1="1510.5" x2="645.7" y2="1510.5" stroke="#7030a0" stroke-width="3.1"/>
<line x1="634.7" y1="1566.9" x2="645.7" y2="1566.9" stroke="#7030a0" stroke-width="3.1"/>
<rect x="178.8" y="1435.5" width="21" height="21" fill="#7030a0"/>
<rect x="215.5" y="1710.5" width="21" height="21" fill="#7030a0"/>
<rect x="329.1" y="1669.1" width="21" height="21" fill="#7030a0"/>
<rect x="480" y="1588.8" width="21" height="21" fill="#7030a0"/>
<rect x="629.7" y="1529.2" width="21" height="21" fill="#7030a0"/>
<text x="238.74" y="1692.58" font-size="36.74" font-weight="normal" textLength="48.11" lengthAdjust="spacingAndGlyphs" fill="#000" stroke="#000" stroke-width="0.6" stroke-linejoin="round">***</text>
<text x="231.63" y="1788.6" font-size="35.32" font-weight="normal" textLength="48.72" lengthAdjust="spacingAndGlyphs" fill="#000" stroke="#000" stroke-width="0.6" stroke-linejoin="round">***</text>
<text x="335.83" y="1637.08" font-size="36.74" font-weight="normal" textLength="48.52" lengthAdjust="spacingAndGlyphs" fill="#000" stroke="#000" stroke-width="0.6" stroke-linejoin="round">***</text>
<text x="354.5" y="1651.8" font-size="27.6" font-weight="bold" textLength="16.17" lengthAdjust="spacingAndGlyphs" fill="#000">#</text>
<text x="360.93" y="1784.08" font-size="36.74" font-weight="normal" textLength="48.62" lengthAdjust="spacingAndGlyphs" fill="#000" stroke="#000" stroke-width="0.6" stroke-linejoin="round">***</text>
<text x="475.33" y="1550.3" font-size="35.61" font-weight="normal" textLength="48.62" lengthAdjust="spacingAndGlyphs" fill="#000" stroke="#000" stroke-width="0.6" stroke-linejoin="round">***</text>
<text x="497.04" y="1569" font-size="27.31" font-weight="bold" textLength="15" lengthAdjust="spacingAndGlyphs" fill="#000">#</text>
<text x="474.83" y="1737.89" font-size="36.17" font-weight="normal" textLength="48.52" lengthAdjust="spacingAndGlyphs" fill="#000" stroke="#000" stroke-width="0.6" stroke-linejoin="round">***</text>
<text x="635.13" y="1508.43" font-size="33.33" font-weight="normal" textLength="13.83" lengthAdjust="spacingAndGlyphs" fill="#000" stroke="#000" stroke-width="0.6" stroke-linejoin="round">*</text>
<text x="612.43" y="1680.69" font-size="36.17" font-weight="normal" textLength="48.62" lengthAdjust="spacingAndGlyphs" fill="#000" stroke="#000" stroke-width="0.6" stroke-linejoin="round">***</text>
<line x1="857.7" y1="1447.5" x2="857.7" y2="1787.5" stroke="#000" stroke-width="3"/>
<line x1="851" y1="1783.4" x2="857.7" y2="1783.4" stroke="#000" stroke-width="3"/>
<line x1="851" y1="1735.6" x2="857.7" y2="1735.6" stroke="#000" stroke-width="3"/>
<line x1="851" y1="1687.8" x2="857.7" y2="1687.8" stroke="#000" stroke-width="3"/>
<line x1="851" y1="1640" x2="857.7" y2="1640" stroke="#000" stroke-width="3"/>
<line x1="851" y1="1592.2" x2="857.7" y2="1592.2" stroke="#000" stroke-width="3"/>
<line x1="851" y1="1544.4" x2="857.7" y2="1544.4" stroke="#000" stroke-width="3"/>
<line x1="851" y1="1496.6" x2="857.7" y2="1496.6" stroke="#000" stroke-width="3"/>
<line x1="851" y1="1448.8" x2="857.7" y2="1448.8" stroke="#000" stroke-width="3"/>
<line x1="857.7" y1="1786" x2="1342.2" y2="1786" stroke="#000" stroke-width="3"/>
<text x="810.42" y="1792.84" font-size="33" font-weight="normal" textLength="18.9" lengthAdjust="spacingAndGlyphs" fill="#000">0</text>
<text x="810.76" y="1744.7" font-size="33" font-weight="normal" textLength="18.9" lengthAdjust="spacingAndGlyphs" fill="#000">1</text>
<text x="810.81" y="1697.24" font-size="33" font-weight="normal" textLength="18.9" lengthAdjust="spacingAndGlyphs" fill="#000">2</text>
<text x="810.59" y="1649.44" font-size="33" font-weight="normal" textLength="18.9" lengthAdjust="spacingAndGlyphs" fill="#000">3</text>
<text x="810.09" y="1601.3" font-size="33" font-weight="normal" textLength="18.9" lengthAdjust="spacingAndGlyphs" fill="#000">4</text>
<text x="810.52" y="1553.5" font-size="33" font-weight="normal" textLength="18.9" lengthAdjust="spacingAndGlyphs" fill="#000">5</text>
<text x="810.59" y="1506.04" font-size="33" font-weight="normal" textLength="18.9" lengthAdjust="spacingAndGlyphs" fill="#000">6</text>
<text x="810.81" y="1457.9" font-size="33" font-weight="normal" textLength="18.9" lengthAdjust="spacingAndGlyphs" fill="#000">7</text>
<text x="855.06" y="1828.2" font-size="31.8" font-weight="normal" textLength="17.69" lengthAdjust="spacingAndGlyphs" fill="#000">0</text>
<text x="899.65" y="1828.2" font-size="31.8" font-weight="normal" textLength="17.69" lengthAdjust="spacingAndGlyphs" fill="#000">6</text>
<text x="991.18" y="1828.2" font-size="31.8" font-weight="normal" textLength="35.37" lengthAdjust="spacingAndGlyphs" fill="#000">24</text>
<text x="1147.54" y="1828.2" font-size="31.8" font-weight="normal" textLength="35.37" lengthAdjust="spacingAndGlyphs" fill="#000">48</text>
<text x="1295.97" y="1828.2" font-size="31.8" font-weight="normal" textLength="35.37" lengthAdjust="spacingAndGlyphs" fill="#000">72</text>
<text x="1349.81" y="1827.64" font-size="31.8" font-weight="normal" textLength="38.86" lengthAdjust="spacingAndGlyphs" fill="#000">(h)</text>
<text x="808.96" y="1389.4" font-size="47.47" font-weight="normal" textLength="541.99" lengthAdjust="spacingAndGlyphs" fill="#000">Modified limb-placing test</text>
<text transform="translate(782.7,1718.8) rotate(-90)" x="-3.13" y="0" font-size="40.4" font-weight="normal" textLength="210.23" lengthAdjust="spacingAndGlyphs" fill="#000">Deficit score</text>
<text x="737.76" y="1381.8" font-size="76.87" font-weight="bold" textLength="27.97" lengthAdjust="spacingAndGlyphs" fill="#000">f</text>
<polyline points="858.7,1785.2 897.1,1735.9 1011.2,1784.45 1163.8,1772 1316.4,1785.25" fill="none" stroke="#000" stroke-width="2.7" stroke-linejoin="round" stroke-dasharray="12 9"/>
<path d="M858.7 1777.52 L847.77 1796.2 L869.63 1796.2 Z" fill="#fff" stroke="#000" stroke-width="2.4" stroke-linejoin="miter" stroke-miterlimit="10"/>
<path d="M897.1 1727.52 L886.17 1747.6 L908.03 1747.6 Z" fill="#fff" stroke="#000" stroke-width="2.4" stroke-linejoin="miter" stroke-miterlimit="10"/>
<path d="M1011.2 1776.02 L1000.27 1796.2 L1022.13 1796.2 Z" fill="#fff" stroke="#000" stroke-width="2.4" stroke-linejoin="miter" stroke-miterlimit="10"/>
<path d="M1163.8 1764.02 L1152.87 1783.3 L1174.73 1783.3 Z" fill="#fff" stroke="#000" stroke-width="2.4" stroke-linejoin="miter" stroke-miterlimit="10"/>
<path d="M1316.4 1778.02 L1305.47 1795.8 L1327.33 1795.8 Z" fill="#fff" stroke="#000" stroke-width="2.4" stroke-linejoin="miter" stroke-miterlimit="10"/>
<polyline points="858.7,1778 897.1,1472.3 1011.2,1484.6 1163.8,1505 1316.4,1529.5" fill="none" stroke="#ff0000" stroke-width="5.4" stroke-linejoin="round"/>
<line x1="897.1" y1="1456.6" x2="897.1" y2="1488" stroke="#ff0000" stroke-width="2.3"/>
<line x1="891.6" y1="1456.6" x2="902.6" y2="1456.6" stroke="#ff0000" stroke-width="3.1"/>
<line x1="891.6" y1="1488" x2="902.6" y2="1488" stroke="#ff0000" stroke-width="3.1"/>
<line x1="1011.2" y1="1467.1" x2="1011.2" y2="1500" stroke="#ff0000" stroke-width="2.3"/>
<line x1="1005.7" y1="1467.1" x2="1016.7" y2="1467.1" stroke="#ff0000" stroke-width="3.1"/>
<line x1="1005.7" y1="1500" x2="1016.7" y2="1500" stroke="#ff0000" stroke-width="3.1"/>
<line x1="1163.8" y1="1483.5" x2="1163.8" y2="1524.5" stroke="#ff0000" stroke-width="2.3"/>
<line x1="1158.3" y1="1483.5" x2="1169.3" y2="1483.5" stroke="#ff0000" stroke-width="3.1"/>
<line x1="1158.3" y1="1524.5" x2="1169.3" y2="1524.5" stroke="#ff0000" stroke-width="3.1"/>
<line x1="1316.4" y1="1503.6" x2="1316.4" y2="1553.2" stroke="#ff0000" stroke-width="2.3"/>
<line x1="1310.9" y1="1503.6" x2="1321.9" y2="1503.6" stroke="#ff0000" stroke-width="3.1"/>
<line x1="1310.9" y1="1553.2" x2="1321.9" y2="1553.2" stroke="#ff0000" stroke-width="3.1"/>
<circle cx="858.7" cy="1778" r="12.5" fill="#ff0000"/>
<circle cx="897.1" cy="1472.3" r="12.5" fill="#ff0000"/>
<circle cx="1011.2" cy="1484.6" r="12.5" fill="#ff0000"/>
<circle cx="1163.8" cy="1505" r="12.5" fill="#ff0000"/>
<circle cx="1316.4" cy="1529.5" r="12.5" fill="#ff0000"/>
<polyline points="858.7,1778.5 897.1,1476 1011.2,1489 1163.8,1553 1316.4,1593.2" fill="none" stroke="#7030a0" stroke-width="5.4" stroke-linejoin="round"/>
<line x1="897.1" y1="1465" x2="897.1" y2="1487" stroke="#7030a0" stroke-width="2.3"/>
<line x1="891.6" y1="1465" x2="902.6" y2="1465" stroke="#7030a0" stroke-width="3.1"/>
<line x1="891.6" y1="1487" x2="902.6" y2="1487" stroke="#7030a0" stroke-width="3.1"/>
<line x1="1011.2" y1="1470" x2="1011.2" y2="1509.3" stroke="#7030a0" stroke-width="2.3"/>
<line x1="1005.7" y1="1470" x2="1016.7" y2="1470" stroke="#7030a0" stroke-width="3.1"/>
<line x1="1005.7" y1="1509.3" x2="1016.7" y2="1509.3" stroke="#7030a0" stroke-width="3.1"/>
<line x1="1163.8" y1="1525.3" x2="1163.8" y2="1578.3" stroke="#7030a0" stroke-width="2.3"/>
<line x1="1158.3" y1="1525.3" x2="1169.3" y2="1525.3" stroke="#7030a0" stroke-width="3.1"/>
<line x1="1158.3" y1="1578.3" x2="1169.3" y2="1578.3" stroke="#7030a0" stroke-width="3.1"/>
<line x1="1316.4" y1="1565" x2="1316.4" y2="1620.7" stroke="#7030a0" stroke-width="2.3"/>
<line x1="1310.9" y1="1565" x2="1321.9" y2="1565" stroke="#7030a0" stroke-width="3.1"/>
<line x1="1310.9" y1="1620.7" x2="1321.9" y2="1620.7" stroke="#7030a0" stroke-width="3.1"/>
<rect x="847.95" y="1767.75" width="21.5" height="21.5" fill="#7030a0"/>
<rect x="886.35" y="1465.25" width="21.5" height="21.5" fill="#7030a0"/>
<rect x="1000.45" y="1478.25" width="21.5" height="21.5" fill="#7030a0"/>
<rect x="1153.05" y="1542.25" width="21.5" height="21.5" fill="#7030a0"/>
<rect x="1305.65" y="1582.45" width="21.5" height="21.5" fill="#7030a0"/>
<text x="912.93" y="1464.01" font-size="34.75" font-weight="normal" textLength="48.21" lengthAdjust="spacingAndGlyphs" fill="#000" stroke="#000" stroke-width="0.6" stroke-linejoin="round">***</text>
<text x="908.43" y="1526.81" font-size="34.75" font-weight="normal" textLength="48.21" lengthAdjust="spacingAndGlyphs" fill="#000" stroke="#000" stroke-width="0.6" stroke-linejoin="round">***</text>
<text x="1030.63" y="1481.39" font-size="36.17" font-weight="normal" textLength="48.52" lengthAdjust="spacingAndGlyphs" fill="#000" stroke="#000" stroke-width="0.6" stroke-linejoin="round">***</text>
<text x="1009.63" y="1555.6" font-size="35.32" font-weight="normal" textLength="48.21" lengthAdjust="spacingAndGlyphs" fill="#000" stroke="#000" stroke-width="0.6" stroke-linejoin="round">***</text>
<text x="1178.72" y="1499.49" font-size="36.17" font-weight="normal" textLength="49.55" lengthAdjust="spacingAndGlyphs" fill="#000" stroke="#000" stroke-width="0.6" stroke-linejoin="round">***</text>
<text x="1291.64" y="1499.49" font-size="36.17" font-weight="normal" textLength="48.11" lengthAdjust="spacingAndGlyphs" fill="#000" stroke="#000" stroke-width="0.6" stroke-linejoin="round">***</text>
<text x="1160.64" y="1613.69" font-size="36.17" font-weight="normal" textLength="48.11" lengthAdjust="spacingAndGlyphs" fill="#000" stroke="#000" stroke-width="0.6" stroke-linejoin="round">***</text>
<text x="1291.64" y="1654.61" font-size="34.75" font-weight="normal" textLength="48.11" lengthAdjust="spacingAndGlyphs" fill="#000" stroke="#000" stroke-width="0.6" stroke-linejoin="round">***</text>
<line x1="1046.7" y1="1866.3" x2="1059.4" y2="1866.3" stroke="#000" stroke-width="2.6"/>
<path d="M1077 1859.31 L1068.96 1873.9 L1085.04 1873.9 Z" fill="#fff" stroke="#000" stroke-width="2.2" stroke-linejoin="miter" stroke-miterlimit="10"/>
<line x1="1096.7" y1="1866.3" x2="1108.4" y2="1866.3" stroke="#000" stroke-width="2.6"/>
<text x="1113.39" y="1876.5" font-size="26.22" font-weight="normal" textLength="75.41" lengthAdjust="spacingAndGlyphs" fill="#000">Sham</text>
<line x1="1048.7" y1="1906.5" x2="1106.4" y2="1906.5" stroke="#ff0000" stroke-width="6" stroke-linecap="round"/>
<circle cx="1077.6" cy="1906.5" r="9.8" fill="#ff0000"/>
<text x="1112.62" y="1915.3" font-size="27.05" font-weight="normal" textLength="178.47" lengthAdjust="spacingAndGlyphs" fill="#000">ICH + Vehicle</text>
<line x1="1048.7" y1="1947" x2="1106.4" y2="1947" stroke="#7030a0" stroke-width="6" stroke-linecap="round"/>
<rect x="1068.1" y="1937.5" width="19" height="19" fill="#7030a0"/>
<text x="1112.65" y="1955.5" font-size="28.07" font-weight="normal" textLength="173.35" lengthAdjust="spacingAndGlyphs" fill="#000">ICH + 1400W</text>
</svg></body></html>
